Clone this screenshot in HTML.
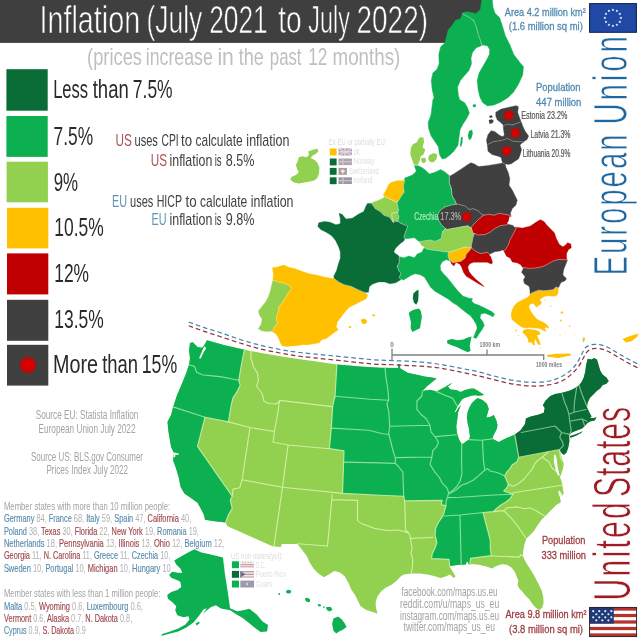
<!DOCTYPE html>
<html lang="en">
<head>
<meta charset="utf-8">
<title>Inflation (July 2021 to July 2022)</title>
<style>
html,body{margin:0;padding:0;background:#fff;}
body{width:640px;height:640px;overflow:hidden;}
svg{display:block;font-family:"Liberation Sans",sans-serif;}
</style>
</head>
<body>
<svg width="640" height="640" viewBox="0 0 640 640">
<rect width="640" height="640" fill="#ffffff"/>
<rect x="0" y="0" width="490" height="42.9" fill="#3f3f3f"/>
<polygon points="469,130.94 472.19,129.63 472.75,133.75 471.25,138.44 469,140.31 467.88,135.63" fill="#0db050"/>
<polygon points="460.94,137.5 462.63,136.56 462.44,142.19 461.13,146.88 460,145.94" fill="#0db050"/>
<polygon points="472.5,105 475.31,104.06 476.25,106.5 473.44,107.25" fill="#0db050"/>
<polygon points="420.63,137.13 423.44,137.5 424,142.19 422.5,146.88 425.31,149.69 423.44,154.38 420.63,156.25 419.69,160.94 417.81,164.69 414.06,164.69 412.19,160 410.31,154.38 410.88,147.81 413.13,144.06 416.88,142.19 418.75,138.44" fill="#92d050"/>
<polygon points="421,158.13 425.31,157.75 426.25,160.94 424,163.38 421.56,161.88" fill="#92d050"/>
<polygon points="429.06,155.31 433.75,152.88 437.13,154.38 436.56,159.06 433.75,162.25 430,161.88 428.13,159.06" fill="#92d050"/>
<polygon points="488.75,120 491.88,119.22 493.75,120.78 492.66,123.12 489.53,123.91" fill="#404040"/>
<polygon points="489.06,116.09 491.88,115.31 492.66,117.19 490,118.12" fill="#404040"/>
<polygon points="523.75,330 527.5,329 531.88,329.38 535.62,330 538.75,331.25 540.62,333.75 538.75,335 536.88,335 538.12,338.12 540,342.5 540.62,345 538.12,344.38 536.25,341.25 535,338.75 534.38,342.5 535,345.62 533.12,345 531.25,341.88 529.38,343.12 528.12,341.25 527.5,338.12 525.62,335.62 523.75,333.75 522.5,331.88" fill="#ffc000"/>
<polygon points="546.88,355 551.25,354.38 556.25,353.75 561.25,353.75 567.5,353.5 571.25,353.75 570.62,355.62 566.25,356.25 561.25,357.5 557.5,358.12 552.5,357.25 548.12,356.88" fill="#ffc000"/>
<circle cx="561.88" cy="312.5" r="1.375" fill="#ffd040"/>
<circle cx="560.88" cy="320.62" r="1.125" fill="#ffd040"/>
<circle cx="569.62" cy="326" r="0.875" fill="#ffd040"/>
<circle cx="550.62" cy="306.25" r="0.75" fill="#ffd040"/>
<circle cx="516" cy="330.62" r="1" fill="#ffd040"/>
<circle cx="518.5" cy="335.62" r="0.625" fill="#ffd040"/>
<circle cx="560" cy="335" r="0.625" fill="#ffd040"/>
<circle cx="540.25" cy="348.12" r="0.625" fill="#ffd040"/>
<circle cx="545" cy="300" r="0.625" fill="#ffd040"/>
<circle cx="555" cy="329.38" r="0.5" fill="#ffd040"/>
<circle cx="565" cy="332.5" r="0.5" fill="#ffd040"/>
<circle cx="574.38" cy="334.38" r="0.5" fill="#ffd040"/>
<polygon points="582.75,337.75 584.5,336.88 585,339.38 583.75,342.5 582.5,341.25" fill="#e0cc40"/>
<polygon points="622.5,339 630,336 638.5,333.5 637,337 632,341 626,342.5" fill="#ffc000"/>
<polygon points="413.44,293.44 416.25,290.63 418.5,289.69 418.5,295.31 418.13,300.94 416.25,304.69 414,302.81 412.88,298.13" fill="#0a6c36"/>
<polygon points="360.63,319.75 364.38,318.44 367.19,320.88 366.25,323.5 362.5,324.06" fill="#ffc000"/>
<polygon points="348.44,326.5 350.88,325.94 351.25,327.63 349,328" fill="#ffc000"/>
<polygon points="371.88,314.69 374.69,314.13 375.25,315.63 372.81,316.19" fill="#ffc000"/>
<polygon points="447.19,340.31 451.88,339 457.5,340.31 463.13,339.38 467.81,337.5 471.56,336.56 470.63,341.25 469.69,345.94 470.63,350.63 467.81,352.13 462.19,349.69 456.56,346.88 450.94,345 447.19,343.13" fill="#0db050"/>
<polygon points="410.63,311.25 414.38,309.38 419.06,308.44 420.94,311.25 421.88,316.88 420.94,322.5 420,328.13 416.25,330 412.5,331.88 410.63,328.13 411,322.5 409.69,316.88 408.75,313.13" fill="#0db050"/>
<polygon points="308.13,151.56 312.81,149.69 317.5,148.75 318.44,151.56 314.69,154.38 311.88,155.88 310.94,158.13 314.69,160 317.5,162.81 319.38,167.5 319,173.13 317.5,177.81 314.69,180.25 310,181.56 304.38,182.5 298.75,183.44 294.06,182.5 290.31,179.69 291.25,176.88 295.94,175 298.75,172.19 296.88,168.44 295.94,164.69 297.81,160.94 298.75,157.19 302.5,156.25 306.25,157.19 309.06,155.31" fill="#92d050"/>
<path d="M392.46,220.91 397.66,221.46 398.93,217.16 397.23,212.33 391.72,213.15Z" fill="#92d050" stroke="#92d050" stroke-width="0.4" fill-rule="evenodd"/>
<path d="M449.46,259.98 452.86,262.69 461.04,261.25 465.26,258.09 466.21,254.26 468.91,251.58 471.87,247.13 464.20,247.13 456.58,249.98 448.48,252.00 447.98,255.73Z" fill="#ffc000" stroke="#ffc000" stroke-width="0.4" fill-rule="evenodd"/>
<path d="M375.26,208.57 380.01,211.42 383.84,215.25 389.39,217.10 393.81,223.00 393.81,221.05 392.46,220.91 391.72,213.15 397.23,212.33 397.45,212.97 398.54,210.79 397.53,204.72 396.39,201.98 393.21,200.71 388.57,198.48 384.38,196.38 384.06,196.54 384.10,196.68 384.13,196.77 384.15,196.86 384.16,196.96 384.15,197.05 384.14,197.15 384.13,197.24 384.10,197.33 384.06,197.42 384.02,197.50 383.96,197.58 383.90,197.66 383.84,197.73 383.76,197.79 383.69,197.84 383.60,197.89 378.81,200.28 378.68,200.33 373.15,202.18 373.13,202.19 373.13,202.20 373.12,202.28 373.10,202.38 373.07,202.47 373.03,202.56 372.99,202.65 372.93,202.73 372.87,202.81 372.80,202.88 372.72,202.94 372.64,203.00 372.55,203.04 372.45,203.08 372.36,203.11 372.26,203.12 372.19,203.13 372.19,203.13 372.13,203.13 372.13,204.39Z" fill="#92d050" stroke="#92d050" stroke-width="0.4" fill-rule="evenodd"/>
<path d="M398.33,200.87 401.14,196.19 404.19,192.14 403.21,186.28 404.76,179.63 404.03,179.63 403.78,180.10 403.73,180.18 403.67,180.26 403.61,180.34 403.53,180.40 403.46,180.46 403.37,180.51 403.28,180.55 403.19,180.59 403.09,180.61 403.00,180.63 402.90,180.63 397.52,180.63 397.50,180.63 397.48,180.64 390.96,182.49 390.94,182.50 390.92,182.52 388.15,185.29 388.13,185.31 388.12,185.33 386.28,189.93 386.25,190.00 386.21,190.07 383.45,194.67 383.44,194.69 383.45,194.71 384.06,196.54 384.38,196.38 388.57,198.48 393.21,200.71 396.39,201.98 396.77,202.90Z" fill="#ffc000" stroke="#ffc000" stroke-width="0.4" fill-rule="evenodd"/>
<path d="M512.27,124.94 517.22,123.28 521.13,121.72 520.78,120.78 520.78,120.78 520.78,120.78 520.78,120.78 519.23,116.91 519.21,116.85 517.73,112.41 517.71,112.32 517.69,112.23 517.68,112.14 517.68,112.05 517.69,111.96 518.44,106.74 518.44,106.72 518.42,106.71 516.11,105.63 516.09,105.62 516.07,105.63 509.06,107.19 509.06,107.19 501.27,109.05 501.25,109.06 501.23,109.07 495.80,112.18 495.78,112.19 495.78,112.21 495.78,116.07 495.78,116.09 495.79,116.11 497.33,119.98 497.34,120.00 497.36,120.01 500.44,122.31 500.50,122.37 502.82,124.43 502.89,124.49 502.95,124.56 503.00,124.64 503.05,124.72 503.09,124.81 503.12,124.90 503.14,124.99 503.15,125.09 503.21,125.72 507.59,124.15Z" fill="#404040" stroke="#404040" stroke-width="0.4" fill-rule="evenodd"/>
<path d="M450.56,261.24 450.59,261.27 450.66,261.34 450.72,261.42 450.77,261.50 450.82,261.59 450.85,261.68 450.88,261.78 450.89,261.87 450.90,261.97 450.90,262.07 450.89,262.16 450.88,262.19 450.89,262.21 451.62,264.04 451.63,264.06 451.65,264.08 454.04,265.93 454.06,265.94 454.07,265.92 455.49,263.08 455.54,263.00 455.60,262.92 455.66,262.84 455.73,262.77 455.81,262.71 455.89,262.66 455.98,262.62 456.07,262.58 456.16,262.56 456.26,262.54 456.36,262.53 456.46,262.53 456.55,262.54 456.65,262.57 456.74,262.60 456.83,262.64 459.45,263.94 459.54,263.99 459.63,264.05 459.70,264.12 459.78,264.20 459.84,264.28 461.49,266.78 461.55,266.88 461.60,266.99 463.43,272.11 463.44,272.13 463.45,272.15 466.23,276.23 466.25,276.25 466.27,276.26 470.94,279.06 470.94,279.06 475.63,281.88 480.29,284.68 480.33,284.70 484.04,286.55 484.06,286.56 484.04,286.54 481.27,283.77 481.23,283.73 476.60,280.04 476.52,279.96 471.93,275.36 471.84,275.25 469.17,271.71 469.12,271.63 469.08,271.55 469.04,271.47 469.01,271.38 467.87,267.32 467.85,267.23 467.84,267.13 467.84,267.04 467.84,266.94 467.86,266.85 467.88,266.76 467.91,266.67 467.96,266.58 468.00,266.50 469.81,263.78 469.87,263.70 469.93,263.64 470.00,263.57 470.07,263.52 470.15,263.47 470.23,263.42 470.32,263.39 473.59,262.25 473.70,262.21 473.81,262.20 473.92,262.19 486.69,262.19 486.78,262.19 486.88,262.21 486.97,262.23 487.06,262.26 491.54,264.05 491.56,264.06 491.57,264.04 492.49,262.21 492.50,262.19 492.49,262.17 490.64,256.58 490.63,256.56 490.61,256.55 489.70,255.77 489.63,255.71 489.56,255.63 489.51,255.55 489.46,255.46 489.42,255.37 489.39,255.28 489.36,255.19 489.35,255.09 489.35,254.99 489.36,254.89 489.37,254.79 489.40,254.70 489.43,254.61 489.48,254.52 489.53,254.43 489.59,254.36 487.16,252.30 480.45,253.64 475.23,251.03 471.34,247.92 468.91,251.58 466.21,254.26 465.26,258.09 461.04,261.25 452.86,262.69 450.92,261.15Z M469.77,246.67 469.46,247.13 470.35,247.13Z" fill="#c00000" stroke="#c00000" stroke-width="0.4" fill-rule="evenodd"/>
<path d="M473.96,224.01 471.13,227.27 472.94,232.94 478.29,235.08 485.27,234.48 490.23,232.10 494.92,228.35 500.30,225.66 507.14,224.68 507.60,224.00 507.53,223.95 507.45,223.88 507.39,223.81 507.33,223.73 507.28,223.65 507.23,223.56 507.20,223.46 507.17,223.37 507.16,223.27 507.15,223.17 507.16,223.07 507.17,222.97 507.20,222.88 507.23,222.78 507.27,222.69 507.32,222.61 508.43,220.96 508.44,220.94 508.44,220.92 509.25,216.92 509.27,216.82 509.31,216.72 509.35,216.63 509.40,216.55 509.46,216.47 509.53,216.39 509.61,216.33 509.69,216.27 509.78,216.22 509.87,216.18 509.97,216.15 510.07,216.13 510.17,216.12 510.27,216.11 510.37,216.12 510.42,216.13 510.56,215.47 504.87,214.33 498.95,213.35 494.27,215.22 488.73,214.29 483.62,215.32 478.71,219.25Z" fill="#c00000" stroke="#c00000" stroke-width="0.4" fill-rule="evenodd"/>
<path d="M505.49,164.39 505.50,164.38 505.56,164.30 505.63,164.23 505.70,164.17 505.78,164.11 505.86,164.06 505.95,164.02 506.04,163.99 506.14,163.97 506.23,163.95 506.33,163.95 506.43,163.95 506.52,163.97 506.62,163.99 506.71,164.03 506.80,164.07 506.88,164.12 507.48,164.52 507.50,164.53 507.52,164.53 511.39,163.75 511.41,163.75 511.43,163.74 514.49,161.44 514.57,161.38 518.42,159.07 518.44,159.06 518.45,159.04 519.99,155.18 520.01,155.14 521.55,149.71 521.56,149.69 521.55,149.67 520.19,145.59 520.17,145.49 520.15,145.39 520.14,145.29 520.15,145.19 520.16,145.09 520.18,144.99 520.22,144.90 520.26,144.81 520.31,144.72 520.37,144.64 520.44,144.56 522.27,142.73 522.34,142.66 522.42,142.61 523.84,141.66 516.96,141.66 512.50,140.92 507.58,138.45 501.02,140.58 493.13,141.69 487.30,144.76 487.49,145.73 487.50,145.84 487.97,151.22 487.97,151.25 487.99,151.27 491.86,154.36 491.88,154.38 491.90,154.39 497.29,155.93 497.39,155.96 500.75,157.30 500.84,157.34 500.92,157.39 501.00,157.45 501.08,157.51 501.14,157.59 501.20,157.67 501.26,157.75 501.30,157.84 501.33,157.94 501.36,158.03 502.03,161.39 502.03,161.41 502.05,161.42 502.13,161.47 502.21,161.53 502.28,161.60 502.34,161.67 502.40,161.75 502.45,161.84 502.49,161.93 502.52,162.03 502.54,162.12 502.55,162.22 502.55,162.32 502.55,162.42 502.53,162.51 502.50,162.61 502.46,162.70 502.45,162.74 504.66,163.84Z" fill="#404040" stroke="#404040" stroke-width="0.4" fill-rule="evenodd"/>
<path d="M527.01,139.54 527.03,139.53 527.04,139.51 528.58,135.96 528.59,135.94 528.58,135.92 525.52,131.79 525.47,131.72 525.43,131.64 523.14,127.08 523.10,126.98 521.13,121.72 517.22,123.28 512.27,124.94 507.59,124.15 503.21,125.72 503.59,130.14 503.59,130.18 504.31,134.41 504.32,134.51 504.32,134.61 504.31,134.72 504.29,134.82 504.26,134.92 504.22,135.01 504.17,135.10 504.11,135.19 503.32,136.21 503.26,136.29 503.19,136.36 503.11,136.42 503.02,136.47 502.93,136.52 502.84,136.56 502.74,136.58 502.65,136.60 502.55,136.60 502.45,136.60 502.35,136.59 502.25,136.57 502.16,136.53 502.07,136.49 499.00,134.88 498.91,134.84 498.83,134.78 495.02,131.74 495.00,131.72 494.98,131.71 491.11,130.63 491.09,130.62 491.08,130.64 487.98,134.82 487.97,134.84 487.96,134.86 486.42,140.29 486.41,140.31 486.41,140.33 487.49,145.73 487.30,144.76 493.13,141.69 501.02,140.58 507.58,138.45 512.50,140.92 516.96,141.66 523.84,141.66 522.42,142.61Z" fill="#404040" stroke="#404040" stroke-width="0.4" fill-rule="evenodd"/>
<path d="M444.78,206.90 439.76,210.92 437.64,215.17 438.67,220.37 441.68,225.36 446.86,229.51 452.36,228.48 457.99,227.54 462.68,226.61 467.90,225.74 471.40,228.13 471.13,227.27 473.96,224.01 478.71,219.25 483.62,215.32 484.12,215.22 481.79,214.44 478.06,210.71 472.88,208.64 469.30,209.54 464.85,205.97 457.87,203.98 451.59,204.96Z" fill="#404040" stroke="#404040" stroke-width="0.4" fill-rule="evenodd"/>
<path d="M277.31,323.39 276.34,317.58 278.16,312.12 279.07,306.67 282.70,302.13 285.55,297.39 288.33,292.75 291.63,288.35 288.04,284.76 282.14,282.78 277.49,281.85 272.97,279.89 272.89,280.85 272.88,280.94 272.85,281.03 271.57,285.61 271.56,285.65 270.64,290.25 270.61,290.37 268.77,295.87 268.72,296.00 265.99,301.47 265.94,301.56 265.87,301.64 258.46,310.92 258.44,310.94 258.45,310.96 259.37,314.67 259.38,314.69 259.39,314.71 261.99,319.05 262.03,319.13 262.07,319.21 262.10,319.30 262.12,319.39 262.13,319.48 262.13,319.58 262.13,319.67 262.11,319.76 261.28,323.89 261.26,324.00 261.21,324.11 261.16,324.21 258.45,328.73 258.44,328.75 258.46,328.76 261.23,330.62 261.25,330.63 261.28,330.63 266.86,331.56 266.88,331.56 266.90,331.56 271.20,331.04 271.30,331.04 271.40,331.04 271.50,331.05 271.59,331.07 271.69,331.11 271.78,331.15 271.86,331.20 272.41,331.55 274.30,327.39Z" fill="#92d050" stroke="#92d050" stroke-width="0.4" fill-rule="evenodd"/>
<path d="M442.45,231.71 441.46,237.58 441.06,238.94 434.90,241.44 430.33,239.98 419.28,241.64 420.05,242.24 420.12,242.30 420.19,242.37 420.25,242.45 420.30,242.53 420.35,242.62 420.38,242.71 421.24,245.29 421.25,245.31 421.27,245.32 423.97,246.55 424.06,246.59 424.14,246.65 424.22,246.71 424.29,246.78 424.35,246.85 424.41,246.93 424.45,247.02 424.49,247.11 424.52,247.21 424.54,247.30 424.55,247.40 424.55,247.50 424.54,247.60 424.53,247.70 424.50,247.79 424.46,247.87 427.14,249.09 432.35,250.05 439.86,250.99 445.55,251.94 448.74,251.94 456.58,249.98 464.20,247.13 469.46,247.13 469.77,246.67 470.35,247.13 471.03,247.13 472.85,238.07 474.36,233.51 472.94,232.94 471.13,227.27 471.40,228.13 467.90,225.74 462.68,226.61 457.99,227.54 452.36,228.48 446.86,229.51 445.63,228.52Z" fill="#92d050" stroke="#92d050" stroke-width="0.4" fill-rule="evenodd"/>
<path d="M553.29,289.67 543.75,290.87 538.63,290.23 533.35,292.20 530.00,293.88 530.00,294.59 530.00,294.68 529.98,294.78 529.96,294.88 529.92,294.97 529.88,295.06 529.83,295.14 529.77,295.22 529.71,295.29 528.21,296.79 528.15,296.85 528.08,296.90 528.01,296.94 525.03,298.73 524.97,298.77 521.25,300.62 517.52,302.49 517.50,302.50 517.48,302.52 514.40,305.60 514.38,305.62 514.37,305.64 512.52,309.35 512.49,309.41 511.26,313.09 511.25,313.12 511.25,313.15 511.25,316.86 511.25,316.88 511.26,316.90 512.49,319.98 512.50,320.00 512.52,320.02 515.62,322.50 518.73,324.99 518.77,325.01 522.48,327.49 522.50,327.50 522.53,327.50 526.22,328.12 526.25,328.12 526.28,328.12 530.47,327.52 530.57,327.51 530.67,327.51 530.77,327.52 534.36,328.12 534.38,328.12 534.40,328.12 537.40,328.12 537.50,328.12 537.60,328.14 540.45,328.72 540.56,328.74 540.67,328.79 540.77,328.84 543.73,330.61 543.75,330.62 543.77,330.63 546.23,331.24 546.25,331.25 546.24,331.23 545.07,329.49 545.03,329.42 544.99,329.34 544.96,329.25 544.76,328.65 544.73,328.56 544.72,328.46 544.71,328.36 544.71,328.26 544.72,328.16 544.75,328.07 544.78,327.97 544.82,327.88 544.87,327.80 544.93,327.72 544.99,327.64 545.06,327.57 545.14,327.51 545.23,327.46 545.32,327.42 545.41,327.38 545.51,327.36 545.61,327.34 545.71,327.34 545.80,327.34 545.90,327.36 546.00,327.38 546.09,327.42 546.18,327.46 546.23,327.49 546.25,327.50 546.27,327.51 548.73,328.11 548.75,328.12 548.74,328.10 548.13,326.27 548.12,326.25 548.10,326.23 545.63,323.76 545.62,323.75 545.60,323.74 542.52,321.89 542.50,321.88 542.48,321.87 539.45,320.65 539.38,320.62 539.31,320.58 536.42,318.85 536.34,318.80 536.26,318.74 536.19,318.67 536.13,318.59 534.38,316.26 534.38,316.24 531.92,313.17 531.85,313.06 530.04,310.07 530.00,310.00 529.97,309.92 528.91,307.28 528.88,307.18 528.85,307.08 528.84,306.98 528.84,306.88 528.84,306.78 528.86,306.68 528.89,306.59 528.93,306.49 529.82,304.53 529.86,304.44 529.91,304.36 529.97,304.29 530.03,304.22 530.10,304.16 530.17,304.11 530.25,304.06 530.34,304.02 530.43,303.99 532.26,303.41 532.35,303.38 532.45,303.37 532.54,303.36 532.63,303.36 532.73,303.37 532.82,303.39 532.91,303.42 533.00,303.46 533.08,303.51 533.16,303.56 534.60,304.64 534.67,304.70 534.74,304.76 534.80,304.83 534.85,304.91 535.99,306.73 536.00,306.75 536.02,306.75 537.73,306.50 537.75,306.50 537.76,306.48 538.29,305.43 538.34,305.34 538.39,305.26 538.46,305.18 538.53,305.12 538.61,305.06 538.69,305.00 538.78,304.96 538.87,304.92 538.96,304.90 540.73,304.51 540.75,304.50 540.76,304.48 541.49,302.02 541.50,302.00 541.48,301.98 540.15,300.89 540.08,300.82 540.01,300.75 539.96,300.67 539.90,300.58 539.86,300.50 539.83,300.40 539.81,300.31 539.79,300.21 539.79,300.11 539.79,300.01 539.81,299.92 539.83,299.82 539.87,299.73 539.91,299.64 539.96,299.56 540.02,299.48 540.53,298.86 540.59,298.79 540.66,298.73 540.74,298.67 542.45,297.53 542.56,297.47 544.87,296.32 544.96,296.28 545.05,296.25 545.15,296.23 548.60,295.65 548.70,295.63 548.80,295.63 548.90,295.64 553.09,296.25 553.12,296.25 553.15,296.25 556.85,295.62 556.88,295.62 556.89,295.60 558.11,292.52 558.12,292.50 558.12,292.48 558.12,288.93 558.13,288.82 558.14,288.72 558.17,288.61 558.21,288.52 558.52,287.83 555.98,286.97Z" fill="#ffc000" stroke="#ffc000" stroke-width="0.4" fill-rule="evenodd"/>
<path d="M489.59,254.36 489.66,254.28 489.73,254.22 489.82,254.16 489.90,254.12 494.25,251.95 494.34,251.91 494.43,251.88 494.53,251.86 499.97,250.94 500.00,250.94 500.03,250.93 502.42,249.97 502.51,249.94 502.60,249.92 502.70,249.90 502.79,249.90 502.89,249.91 502.99,249.92 503.08,249.94 503.17,249.98 503.26,250.02 503.34,250.07 503.42,250.12 503.49,250.19 503.56,250.26 503.61,250.34 503.66,250.42 503.71,250.51 503.72,250.53 505.37,249.86 508.41,244.80 510.29,239.17 513.07,234.54 516.15,228.37 515.40,227.24 515.03,227.19 515.00,227.19 514.96,227.20 514.86,227.22 514.76,227.23 514.66,227.22 514.55,227.21 514.46,227.19 514.36,227.16 514.27,227.12 514.18,227.06 514.10,227.01 514.02,226.94 513.96,226.86 513.90,226.78 513.14,225.65 513.13,225.63 513.11,225.62 507.88,224.13 507.79,224.10 507.69,224.05 507.61,224.00 507.60,224.00 507.14,224.68 500.30,225.66 494.92,228.35 490.23,232.10 485.27,234.48 478.29,235.08 474.36,233.51 472.85,238.07 471.03,247.13 471.87,247.13 471.34,247.92 475.23,251.03 480.45,253.64 487.16,252.30 489.59,254.36Z" fill="#404040" stroke="#404040" stroke-width="0.4" fill-rule="evenodd"/>
<path d="M523.07,267.95 523.13,268.03 523.17,268.12 523.21,268.21 523.24,268.31 523.26,268.41 523.27,268.51 523.27,268.61 523.26,268.71 523.23,268.80 523.20,268.90 523.16,268.99 521.57,272.17 521.56,272.19 521.57,272.21 524.85,276.31 524.91,276.39 524.96,276.47 525.00,276.56 525.03,276.65 525.05,276.75 525.07,276.84 525.07,276.94 525.07,277.04 525.05,277.13 525.03,277.23 525.00,277.32 524.96,277.40 524.91,277.49 523.45,279.67 523.44,279.69 523.45,279.72 524.37,283.42 524.38,283.44 524.40,283.45 528.71,286.04 528.79,286.09 528.86,286.15 528.93,286.22 528.99,286.30 529.05,286.38 529.09,286.47 529.13,286.56 529.16,286.65 529.97,289.88 529.99,289.96 530.00,290.04 530.00,290.12 530.00,293.88 533.35,292.20 538.63,290.23 543.75,290.87 553.29,289.67 555.98,286.97 558.52,287.83 560.77,282.87 560.82,282.78 560.87,282.70 560.93,282.63 560.99,282.56 561.07,282.49 561.14,282.44 561.23,282.39 561.31,282.35 564.67,281.01 564.69,281.00 564.71,280.98 566.54,278.77 566.56,278.75 566.54,278.73 563.17,275.36 563.11,275.29 563.05,275.22 563.00,275.14 562.96,275.05 562.93,274.96 562.90,274.87 562.89,274.78 562.88,274.68 562.88,274.59 562.89,274.49 563.73,269.49 563.76,269.38 563.79,269.28 565.63,264.69 567.12,260.96 567.13,260.95 567.13,260.94 567.13,260.94 567.13,260.94 567.13,260.92 566.92,259.92 559.94,259.37 554.03,260.55 548.28,263.81 542.80,266.55 535.51,268.01 528.20,268.37 522.89,267.31 522.77,267.55Z" fill="#404040" stroke="#404040" stroke-width="0.4" fill-rule="evenodd"/>
<path d="M503.74,250.60 503.75,250.63 503.76,250.65 506.55,256.23 506.56,256.25 506.58,256.26 510.01,257.98 510.09,258.03 510.17,258.08 510.24,258.14 510.30,258.20 510.36,258.27 510.41,258.35 510.46,258.43 512.18,261.86 512.19,261.88 512.21,261.88 516.75,262.78 516.83,262.81 516.92,262.83 517.00,262.87 520.42,264.58 520.50,264.63 520.58,264.68 520.65,264.74 520.71,264.81 520.77,264.88 522.77,267.55 522.89,267.31 528.20,268.37 535.51,268.01 542.80,266.55 548.28,263.81 554.03,260.55 559.94,259.37 566.92,259.92 567.13,260.92 566.58,258.23 566.57,258.13 566.56,258.03 566.56,253.68 566.56,253.58 566.58,253.49 566.60,253.40 566.63,253.31 566.67,253.23 568.32,249.93 568.37,249.84 568.43,249.75 568.50,249.67 568.58,249.60 568.66,249.54 571.23,247.82 571.25,247.81 571.25,247.79 570.88,244.08 570.88,244.06 570.86,244.05 567.52,242.76 567.50,242.75 567.48,242.77 565.72,244.89 565.66,244.96 565.59,245.02 565.51,245.08 563.40,246.49 563.32,246.54 563.23,246.58 563.14,246.61 563.05,246.63 562.96,246.65 562.86,246.65 562.77,246.65 562.67,246.64 562.58,246.62 562.49,246.59 562.41,246.55 562.32,246.51 562.24,246.45 559.25,244.20 559.18,244.14 559.11,244.08 559.05,244.01 559.00,243.93 558.95,243.85 556.28,238.50 556.23,238.37 554.39,232.83 554.38,232.81 554.36,232.79 546.93,225.36 546.84,225.25 544.07,221.58 544.06,221.56 544.04,221.55 540.33,219.70 540.31,219.69 540.29,219.70 535.64,222.49 535.62,222.51 530.14,226.15 530.05,226.21 529.94,226.26 529.83,226.29 522.68,228.08 522.59,228.10 522.50,228.11 522.41,228.11 522.31,228.11 515.03,227.19 515.40,227.24 516.15,228.37 513.07,234.54 510.29,239.17 508.41,244.80 505.37,249.86 503.72,250.53Z" fill="#c00000" stroke="#c00000" stroke-width="0.4" fill-rule="evenodd"/>
<path d="M397.38,266.13 398.48,270.51 401.02,273.05 399.14,277.74 400.93,279.53 401.05,279.45 401.13,279.39 401.21,279.35 401.30,279.31 401.39,279.28 401.48,279.26 401.58,279.25 401.67,279.25 401.77,279.25 401.86,279.27 401.95,279.29 402.04,279.33 402.13,279.37 402.21,279.42 402.28,279.47 402.36,279.54 403.11,280.29 403.13,280.31 403.15,280.30 405.92,278.45 405.96,278.43 410.56,275.67 410.63,275.63 410.70,275.60 415.03,273.86 415.12,273.83 415.22,273.81 415.31,273.79 415.41,273.79 415.51,273.79 415.60,273.81 419.83,274.66 419.94,274.68 420.05,274.73 420.15,274.78 424.47,277.37 424.56,277.43 424.63,277.49 424.70,277.56 424.76,277.63 424.82,277.72 430.30,286.86 430.31,286.88 430.32,286.89 434.05,290.62 434.06,290.63 434.08,290.64 448.07,299.03 448.18,299.10 452.78,302.79 452.84,302.83 457.44,305.60 457.55,305.67 466.87,313.13 466.89,313.13 470.52,315.85 470.59,315.91 470.66,315.98 470.72,316.05 473.41,319.65 473.47,319.73 476.17,324.25 476.22,324.34 476.26,324.43 476.29,324.52 477.11,327.82 477.13,327.92 477.14,328.02 477.14,328.13 477.13,328.23 477.10,328.33 477.07,328.43 475.31,332.81 473.45,337.48 473.44,337.50 473.46,337.51 476.23,338.43 476.25,338.44 476.26,338.42 479.03,333.80 479.09,333.71 481.87,330.02 481.88,330.00 481.89,329.98 484.30,325.33 484.31,325.31 484.30,325.29 482.82,321.58 482.81,321.56 482.80,321.54 480.29,318.19 480.23,318.11 480.18,318.02 480.15,317.93 480.12,317.84 480.10,317.74 480.09,317.64 480.09,317.54 480.10,317.45 480.12,317.35 480.79,314.64 480.82,314.55 480.86,314.46 480.91,314.37 480.96,314.29 481.02,314.21 481.09,314.14 481.17,314.08 481.25,314.03 481.34,313.98 481.43,313.94 481.52,313.92 484.38,313.21 484.48,313.19 484.58,313.18 484.69,313.18 484.79,313.19 484.89,313.22 484.99,313.25 489.34,314.98 489.42,315.02 493.11,316.87 493.13,316.88 493.14,316.86 494.62,314.08 494.63,314.06 494.61,314.04 491.27,311.27 491.25,311.25 491.22,311.24 485.63,308.44 480.03,305.65 479.97,305.62 474.60,303.82 474.52,303.79 474.43,303.75 474.36,303.70 474.28,303.65 474.21,303.58 472.02,301.40 471.96,301.33 471.90,301.25 471.85,301.17 471.81,301.08 471.77,300.99 471.75,300.90 471.73,300.80 471.73,300.71 471.73,300.61 471.74,300.52 471.76,300.42 471.79,300.33 472.49,298.52 472.50,298.50 472.48,298.50 468.86,298.14 468.75,298.12 468.64,298.09 463.35,296.32 463.27,296.29 463.18,296.25 463.11,296.20 463.03,296.15 462.96,296.08 458.48,291.60 458.41,291.52 454.69,286.88 454.69,286.88 447.21,277.52 447.17,277.48 443.49,273.80 443.40,273.69 440.80,270.23 440.75,270.15 440.71,270.07 440.67,269.99 440.64,269.90 440.62,269.81 440.61,269.71 440.28,265.63 440.27,265.53 440.28,265.42 440.30,265.32 440.33,265.22 440.37,265.13 440.42,265.03 442.35,261.81 442.40,261.73 442.46,261.66 442.53,261.59 442.60,261.53 442.68,261.48 442.76,261.43 445.87,259.88 445.96,259.84 446.06,259.81 446.16,259.79 446.26,259.78 446.36,259.77 446.45,259.78 446.55,259.80 446.65,259.83 449.98,260.99 450.00,261.00 450.01,261.00 450.08,261.01 450.18,261.03 450.27,261.06 450.36,261.10 450.44,261.15 450.52,261.21 450.59,261.27 450.56,261.24 450.92,261.15 451.00,261.21 449.46,259.98 447.98,255.73 448.48,252.00 450.17,251.58 448.74,251.94 445.55,251.94 439.86,250.99 432.35,250.05 427.14,249.09 424.46,247.87 424.50,247.79 424.46,247.88 424.41,247.97 424.36,248.05 424.30,248.13 424.23,248.20 424.15,248.26 424.07,248.32 423.98,248.36 423.89,248.40 423.80,248.43 423.77,248.43 423.75,248.44 423.74,248.46 422.05,251.85 422.00,251.94 421.94,252.02 421.87,252.10 421.79,252.17 421.71,252.23 421.62,252.29 421.53,252.33 417.21,254.05 417.19,254.06 417.18,254.08 414.81,257.23 414.75,257.31 414.68,257.38 414.61,257.44 414.53,257.49 414.44,257.54 414.36,257.57 414.26,257.60 414.17,257.62 414.08,257.63 413.98,257.63 413.88,257.63 413.79,257.61 413.70,257.58 408.77,255.95 408.75,255.94 408.73,255.95 404.36,257.69 404.26,257.72 404.16,257.75 404.06,257.76 403.95,257.76 403.85,257.75 403.75,257.73 400.33,256.89 400.31,256.88 400.28,256.90 400.26,256.91 400.17,256.96 400.08,256.99 399.99,257.02 399.90,257.03 399.80,257.04 399.71,257.04 399.61,257.03 399.52,257.01 399.43,256.99 399.34,256.95 399.31,256.93 399.31,262.26Z" fill="#0db050" stroke="#0db050" stroke-width="0.4" fill-rule="evenodd"/>
<path d="M451.21,188.35 452.16,195.96 455.04,200.76 456.42,204.21 457.87,203.98 464.85,205.97 469.30,209.54 472.88,208.64 478.06,210.71 481.79,214.44 484.12,215.22 488.73,214.29 494.27,215.22 498.95,213.35 504.87,214.33 510.56,215.47 510.42,216.13 510.37,216.12 511.23,216.25 511.25,216.25 511.24,216.23 510.43,213.79 510.40,213.69 510.38,213.59 510.38,213.49 510.38,213.39 510.39,213.29 510.41,213.19 510.45,213.10 512.11,208.94 512.16,208.85 512.21,208.76 512.27,208.68 512.33,208.61 515.92,205.02 515.94,205.00 515.95,204.98 517.24,200.33 517.25,200.31 517.24,200.29 515.00,195.63 515.00,195.63 512.21,190.03 512.17,189.97 509.21,185.62 509.16,185.53 509.11,185.44 509.08,185.34 509.05,185.24 509.04,185.14 509.04,185.04 509.04,184.94 509.75,178.78 509.75,178.75 509.74,178.72 508.45,173.15 508.44,173.13 508.43,173.11 506.03,167.56 505.98,167.43 505.36,165.22 505.34,165.12 505.33,165.03 505.33,164.93 505.33,164.83 505.35,164.74 505.37,164.64 505.41,164.55 505.45,164.46 505.50,164.38 505.49,164.39 504.66,163.84 502.45,162.74 502.46,162.70 502.42,162.79 502.37,162.87 502.30,162.95 502.23,163.02 502.16,163.08 502.08,163.14 501.99,163.19 501.90,163.23 501.81,163.26 501.71,163.28 496.25,164.13 486.90,165.63 486.86,165.63 478.79,166.52 478.70,166.53 478.60,166.52 478.50,166.51 478.41,166.49 478.31,166.46 478.23,166.42 478.14,166.37 474.71,164.15 474.69,164.13 474.66,164.12 470.96,162.82 470.94,162.81 470.92,162.82 466.26,165.62 466.24,165.64 460.63,169.38 455.02,173.12 454.98,173.14 450.53,175.81 450.44,175.85 450.36,175.89 450.26,175.92 450.17,175.94 450.07,175.95 449.98,175.95 449.88,175.94 449.79,175.92 449.69,175.90 449.60,175.86 449.52,175.82 449.44,175.77 449.36,175.71 449.31,175.66 449.31,182.66Z" fill="#404040" stroke="#404040" stroke-width="0.4" fill-rule="evenodd"/>
<path d="M473.58,20.36 476.24,26.57 478.10,34.05 480.55,40.62 481.88,45.40 482.52,45.12 482.62,45.09 482.72,45.06 482.81,45.05 482.92,45.04 483.02,45.05 483.11,45.06 487.07,45.85 487.17,45.88 487.26,45.91 487.36,45.96 487.45,46.02 487.53,46.08 487.60,46.15 487.67,46.23 487.73,46.32 489.59,49.42 489.63,49.51 489.67,49.60 489.70,49.70 489.72,49.80 489.73,49.91 489.72,50.01 489.40,54.18 489.38,54.28 489.36,54.37 489.33,54.47 489.29,54.55 486.57,59.98 486.55,60.02 482.81,66.56 479.07,73.11 479.06,73.13 479.05,73.15 477.20,80.61 477.19,80.63 477.19,80.65 478.13,89.96 478.14,90.04 480.00,97.48 480.00,97.50 480.01,97.52 482.80,102.73 482.81,102.75 482.83,102.76 487.48,105.93 487.50,105.94 487.52,105.94 494.04,105.00 494.06,105.00 494.08,104.99 500.61,102.20 500.63,102.19 500.65,102.18 508.11,97.52 508.13,97.50 508.15,97.48 513.73,91.90 513.75,91.88 513.77,91.86 518.42,84.41 518.45,84.35 522.74,75.03 522.75,75.00 522.75,74.97 523.50,66.59 523.50,66.56 523.48,66.54 519.41,61.91 519.36,61.85 513.83,54.49 513.78,54.41 513.74,54.34 513.70,54.26 510.01,45.02 509.99,44.98 505.35,35.71 505.31,35.63 505.29,35.55 502.50,26.26 502.50,26.24 499.70,17.83 499.69,17.81 499.67,17.79 495.17,13.30 495.11,13.23 495.05,13.15 495.00,13.08 494.96,12.99 494.93,12.90 493.16,7.60 493.14,7.50 493.12,7.40 492.19,-0.92 492.19,-0.94 492.17,-0.94 481.90,-0.94 481.88,-0.94 481.88,-0.92 480.43,9.05 480.41,9.14 480.38,9.23 480.35,9.31 480.31,9.40 480.26,9.47 480.21,9.55 480.14,9.61 476.63,13.12 476.56,13.19 476.48,13.25 476.39,13.30 476.30,13.34 476.21,13.37 476.12,13.40 476.02,13.41 475.92,13.41 475.82,13.41 475.73,13.40 466.90,11.63 466.88,11.63 466.86,11.64 462.76,12.75 462.75,12.75 462.75,12.76 462.74,12.77 462.37,13.68 468.24,16.80Z" fill="#0db050" stroke="#0db050" stroke-width="0.4" fill-rule="evenodd"/>
<path d="M401.74,223.71 406.50,225.62 407.84,226.17 405.94,230.91 403.92,236.96 404.86,238.82 404.93,238.77 405.01,238.72 405.11,238.68 405.20,238.65 405.30,238.63 405.40,238.62 405.50,238.62 405.60,238.63 405.70,238.65 405.79,238.68 405.88,238.72 405.91,238.73 405.94,238.75 405.97,238.75 413.97,237.86 414.07,237.85 414.17,237.85 414.26,237.87 414.36,237.89 414.45,237.92 414.54,237.96 414.62,238.01 414.70,238.06 420.05,242.24 419.28,241.64 430.33,239.98 434.90,241.44 441.06,238.94 441.46,237.58 442.45,231.71 445.63,228.52 441.68,225.36 438.67,220.37 437.64,215.17 439.76,210.92 444.78,206.90 451.59,204.96 456.49,204.19 456.42,204.21 455.04,200.76 452.16,195.96 451.21,188.35 449.31,182.66 449.31,175.66 445.33,172.20 445.31,172.19 445.29,172.18 440.65,169.39 440.63,169.38 440.61,169.39 435.06,172.16 434.93,172.21 429.97,173.86 429.87,173.89 429.77,173.91 429.67,173.92 429.57,173.91 429.47,173.90 429.37,173.88 429.28,173.84 429.19,173.80 429.10,173.75 429.02,173.69 428.94,173.62 425.66,170.34 425.60,170.29 421.90,167.51 421.88,167.50 421.86,167.49 418.15,165.64 418.13,165.63 418.11,165.63 414.40,165.63 414.38,165.63 414.39,165.65 416.05,170.66 416.08,170.76 416.10,170.86 416.11,170.96 416.10,171.06 416.09,171.16 416.07,171.26 416.03,171.35 415.99,171.44 415.94,171.53 415.88,171.61 415.81,171.69 412.64,174.86 412.57,174.92 412.49,174.98 412.40,175.03 412.31,175.08 407.84,176.87 407.78,176.89 405.02,177.80 405.00,177.81 404.99,177.83 404.03,179.63 404.76,179.63 403.21,186.28 404.19,192.14 401.14,196.19 398.33,200.87 396.77,202.90 397.53,204.72 398.54,210.79 397.45,212.97 398.93,217.16 397.71,221.29Z" fill="#0db050" stroke="#0db050" stroke-width="0.4" fill-rule="evenodd"/>
<path d="M460.49,18.32 460.45,18.41 460.40,18.49 460.34,18.57 460.27,18.64 460.20,18.71 460.13,18.76 460.04,18.82 459.96,18.86 459.86,18.89 455.65,20.24 455.63,20.25 455.62,20.27 452.84,24.34 452.78,24.42 448.14,29.98 448.13,30.00 448.12,30.02 446.25,37.49 446.25,37.51 444.83,42.85 444.80,42.94 444.76,43.02 444.71,43.11 444.66,43.19 444.60,43.26 444.53,43.33 440.65,46.86 440.63,46.88 440.62,46.90 438.76,54.36 438.75,54.38 438.75,54.40 439.12,63.54 439.12,63.64 439.11,63.75 439.08,63.85 439.05,63.95 436.97,69.17 436.93,69.25 436.88,69.33 436.83,69.40 436.77,69.47 436.71,69.54 432.77,73.11 432.75,73.13 432.74,73.16 431.25,80.61 431.25,80.63 431.25,80.65 432.19,89.96 432.20,90.04 433.97,97.14 433.99,97.24 434.00,97.34 434.00,97.44 433.99,97.54 433.97,97.64 433.94,97.74 433.89,97.83 432.82,99.97 432.81,100.00 432.81,100.03 431.88,107.50 431.88,107.50 430.95,114.88 430.93,115.00 430.90,115.11 428.14,122.48 428.13,122.50 428.13,122.53 428.50,128.11 428.50,128.13 428.51,128.15 430.93,135.61 430.94,135.63 430.95,135.65 434.69,141.25 438.31,146.68 438.36,146.76 438.40,146.85 438.43,146.93 438.45,147.02 438.47,147.11 439.38,154.35 439.38,154.38 439.39,154.40 442.18,159.04 442.19,159.06 442.21,159.05 445.91,158.14 445.94,158.13 445.96,158.11 450.61,154.40 450.65,154.36 454.36,150.65 454.38,150.63 454.39,150.61 458.12,145.02 458.13,145.00 458.13,144.98 459.06,137.50 459.06,137.50 459.98,130.17 460.00,130.06 460.03,129.95 460.08,129.85 462.78,124.44 462.84,124.33 466.54,118.78 466.57,118.72 469.37,113.15 469.38,113.13 469.37,113.11 467.51,107.53 467.50,107.50 467.49,107.48 464.70,102.83 464.69,102.81 464.67,102.80 460.13,100.08 460.04,100.02 459.96,99.95 459.89,99.88 459.83,99.80 459.77,99.71 459.72,99.62 459.69,99.52 458.47,95.73 458.44,95.63 458.43,95.53 457.53,87.45 457.52,87.35 457.53,87.25 457.54,87.14 457.57,87.04 457.60,86.95 460.25,80.76 460.29,80.68 460.35,80.59 460.40,80.52 464.99,75.01 465.01,74.99 469.11,70.33 469.13,70.31 469.14,70.29 471.55,63.77 471.56,63.75 471.56,63.73 471.02,58.31 471.01,58.22 471.02,58.13 471.03,58.04 471.05,57.95 472.45,52.70 472.48,52.60 472.52,52.51 472.57,52.42 472.63,52.34 476.09,48.01 476.16,47.93 476.23,47.87 476.31,47.81 476.39,47.75 476.48,47.71 481.88,45.40 480.55,40.62 478.10,34.05 476.24,26.57 473.58,20.36 468.24,16.80 462.37,13.68Z" fill="#0db050" stroke="#0db050" stroke-width="0.4" fill-rule="evenodd"/>
<path d="M275.16,333.34 275.23,333.39 275.30,333.45 275.36,333.51 275.42,333.58 278.05,337.08 278.10,337.16 278.14,337.23 278.18,337.31 279.99,341.86 280.01,341.90 281.87,345.61 281.88,345.63 281.90,345.63 286.53,346.55 286.56,346.56 286.59,346.56 291.22,346.00 291.28,346.00 296.86,345.63 296.90,345.63 302.42,344.70 302.50,344.69 302.58,344.69 308.11,344.69 308.13,344.69 308.15,344.69 313.75,343.75 319.35,342.81 319.38,342.81 319.39,342.79 321.06,340.29 321.12,340.21 321.18,340.14 321.25,340.08 321.32,340.02 321.40,339.97 321.49,339.93 321.58,339.89 326.85,338.14 326.88,338.13 326.90,338.11 330.63,335.31 330.63,335.31 338.11,329.71 338.13,329.69 338.12,329.67 336.48,327.23 336.43,327.14 336.39,327.05 336.36,326.96 336.33,326.86 336.32,326.77 336.31,326.67 336.32,326.57 336.33,326.47 337.15,322.41 337.17,322.33 337.20,322.24 337.23,322.16 337.28,322.08 337.33,322.01 342.81,314.69 342.81,314.69 345.59,311.00 345.68,310.89 349.27,307.30 349.35,307.23 349.43,307.17 349.53,307.12 355.00,304.38 360.63,301.56 366.23,298.76 366.25,298.75 366.26,298.73 367.74,294.65 367.75,294.63 367.73,294.62 366.36,294.13 366.27,294.09 366.18,294.05 366.09,293.99 366.02,293.93 365.95,293.85 365.89,293.78 365.83,293.69 365.78,293.60 365.75,293.51 365.72,293.42 365.70,293.32 365.70,293.22 365.70,293.12 365.71,293.02 365.73,292.92 365.75,292.85 362.87,291.82 357.30,289.40 351.60,286.56 344.10,284.69 338.66,281.96 333.87,278.29 333.83,278.35 333.76,278.42 333.69,278.48 333.61,278.53 333.52,278.58 333.43,278.62 333.34,278.65 333.25,278.67 333.15,278.68 333.05,278.69 332.96,278.68 332.86,278.66 332.77,278.64 332.68,278.60 332.59,278.56 332.51,278.51 332.50,278.50 332.48,278.50 325.04,277.20 324.96,277.18 317.52,275.31 317.48,275.31 310.07,274.01 309.93,273.98 302.52,271.57 302.48,271.55 295.03,268.76 294.97,268.74 287.61,266.91 287.50,266.87 287.40,266.83 283.77,265.01 283.75,265.00 283.73,265.01 278.21,266.85 278.13,266.88 278.05,266.89 272.52,267.81 272.50,267.81 272.50,267.83 273.42,274.27 273.43,274.38 273.43,274.49 272.97,279.89 277.49,281.85 282.14,282.78 288.04,284.76 291.63,288.35 288.33,292.75 285.55,297.39 282.70,302.13 279.07,306.67 278.16,312.12 276.34,317.58 277.31,323.39 274.30,327.39 272.41,331.55 271.86,331.20Z" fill="#ffc000" stroke="#ffc000" stroke-width="0.4" fill-rule="evenodd"/>
<path d="M365.76,292.83 365.80,292.74 365.85,292.65 365.91,292.57 365.98,292.49 366.05,292.42 366.13,292.36 366.22,292.31 366.31,292.27 366.40,292.23 366.50,292.21 366.60,292.19 366.69,292.19 368.41,292.19 368.44,292.19 368.44,292.17 369.31,286.96 369.33,286.86 369.36,286.77 369.40,286.68 369.45,286.60 369.50,286.52 369.56,286.45 369.63,286.38 369.70,286.32 373.00,283.85 373.09,283.79 373.18,283.74 373.28,283.70 378.60,281.93 378.70,281.90 378.81,281.89 378.91,281.88 384.22,281.88 384.32,281.89 384.43,281.90 384.53,281.93 389.98,283.74 390.00,283.75 390.02,283.75 395.61,282.81 395.63,282.81 395.65,282.80 400.29,280.01 400.33,279.98 400.93,279.53 399.14,277.74 401.02,273.05 398.48,270.51 397.38,266.13 399.31,262.26 399.31,256.93 399.25,256.90 399.17,256.85 399.10,256.79 399.03,256.72 398.97,256.65 398.92,256.57 398.87,256.49 398.45,255.65 398.44,255.63 398.42,255.62 395.71,253.80 395.63,253.75 395.56,253.68 394.26,252.39 394.20,252.32 394.14,252.24 394.09,252.16 394.05,252.07 394.01,251.98 393.99,251.89 393.97,251.79 393.97,251.70 393.97,251.60 393.98,251.51 394.01,251.41 394.04,251.32 394.07,251.23 395.56,248.27 395.61,248.18 395.67,248.10 395.74,248.02 399.34,244.42 399.42,244.35 404.04,240.64 404.06,240.63 404.07,240.61 404.50,239.30 404.54,239.21 404.58,239.12 404.64,239.04 404.70,238.96 404.77,238.89 404.85,238.83 404.93,238.77 404.86,238.82 403.92,236.96 405.94,230.91 407.84,226.17 406.50,225.62 401.74,223.71 397.71,221.29 397.66,221.46 393.81,221.05 393.81,223.00 389.39,217.10 383.84,215.25 380.01,211.42 375.26,208.57 372.13,204.39 372.13,203.13 372.19,203.13 367.52,203.50 367.50,203.50 367.49,203.52 365.64,206.85 365.62,206.91 363.89,211.21 363.85,211.30 363.79,211.39 363.73,211.47 363.66,211.55 363.59,211.62 363.50,211.68 363.41,211.73 358.16,214.37 358.10,214.40 352.69,218.00 352.61,218.05 352.53,218.09 352.45,218.12 352.36,218.15 352.28,218.16 346.50,218.98 346.41,218.99 346.32,218.99 346.22,218.98 346.13,218.96 346.04,218.94 345.95,218.90 345.87,218.86 345.79,218.81 345.71,218.75 345.65,218.69 345.58,218.62 342.21,214.40 342.19,214.38 342.17,214.37 339.02,213.45 339.00,213.44 339.01,213.46 340.27,218.00 340.29,218.09 340.31,218.18 340.31,218.27 340.31,222.93 340.31,223.03 340.29,223.13 340.27,223.22 340.23,223.31 340.19,223.40 340.14,223.49 340.08,223.56 340.02,223.64 339.95,223.70 339.87,223.76 339.78,223.81 339.69,223.85 339.60,223.89 339.51,223.91 335.94,224.63 335.84,224.64 335.74,224.65 335.64,224.64 335.54,224.63 335.44,224.60 335.34,224.57 330.02,222.26 330.00,222.25 329.98,222.25 324.40,221.50 324.38,221.50 324.36,221.51 318.77,222.80 318.75,222.81 318.74,222.83 317.82,226.54 317.81,226.56 317.83,226.58 320.61,229.36 320.63,229.38 320.65,229.39 326.19,232.16 326.30,232.22 331.75,235.85 331.83,235.92 331.91,235.98 331.98,236.06 335.56,240.55 335.63,240.63 335.68,240.72 338.41,246.19 338.46,246.32 340.26,251.73 340.29,251.83 340.30,251.94 340.31,252.04 340.31,258.28 340.30,258.38 340.29,258.49 340.26,258.59 338.44,264.05 338.44,264.07 336.59,270.54 336.56,270.63 336.52,270.71 333.76,276.23 333.75,276.25 333.76,276.27 334.05,277.44 334.07,277.54 334.08,277.63 334.08,277.73 334.07,277.83 334.05,277.92 334.02,278.02 333.99,278.11 333.94,278.19 333.89,278.27 333.87,278.29 338.66,281.96 344.10,284.69 351.60,286.56 357.30,289.40 362.87,291.82 365.75,292.85 365.73,292.92Z" fill="#0a6c36" stroke="#0a6c36" stroke-width="0.4" fill-rule="evenodd"/>
<path d="M392.46,220.91 397.66,221.46 398.93,217.16 397.23,212.33 391.72,213.15 392.46,220.91" fill="none" stroke="rgba(255,255,255,0.55)" stroke-width="0.8" stroke-linecap="round" stroke-linejoin="round"/>
<path d="M449.46,259.98 452.86,262.69 461.04,261.25 465.26,258.09 466.21,254.26 468.91,251.58 471.87,247.13 464.20,247.13 456.58,249.98 448.48,252.00 447.98,255.73 449.46,259.98" fill="none" stroke="rgba(255,255,255,0.55)" stroke-width="0.8" stroke-linecap="round" stroke-linejoin="round"/>
<path d="M375.26,208.57 380.01,211.42 383.84,215.25 389.39,217.10 393.81,223.00 393.81,221.05 393.76,221.05 M397.43,212.90 397.45,212.97 398.54,210.79 397.53,204.72 396.39,201.98 393.21,200.71 388.57,198.48 384.38,196.38 384.29,196.43 M372.13,203.39 372.13,204.39 375.26,208.57" fill="none" stroke="rgba(255,255,255,0.55)" stroke-width="0.8" stroke-linecap="round" stroke-linejoin="round"/>
<path d="M398.33,200.87 401.14,196.19 404.19,192.14 403.21,186.28 404.76,179.63 404.32,179.63 M396.75,202.85 396.77,202.90 398.33,200.87" fill="none" stroke="rgba(255,255,255,0.55)" stroke-width="0.8" stroke-linecap="round" stroke-linejoin="round"/>
<path d="M512.27,124.94 517.22,123.28 520.90,121.81 M503.45,125.63 507.59,124.15 512.27,124.94" fill="none" stroke="rgba(255,255,255,0.35)" stroke-width="0.8" stroke-linecap="round" stroke-linejoin="round"/>
<path d="M489.40,254.20 487.16,252.30 480.45,253.64 475.23,251.03 471.34,247.92 471.31,247.96 M469.77,246.67 469.46,247.13 469.52,247.13 M470.27,247.13 470.35,247.13 469.77,246.67" fill="none" stroke="rgba(255,160,160,0.7)" stroke-width="0.8" stroke-linecap="round" stroke-linejoin="round"/>
<path d="M473.96,224.01 471.13,227.27 472.94,232.94 478.29,235.08 485.27,234.48 490.23,232.10 494.92,228.35 500.30,225.66 507.14,224.68 507.46,224.20 M510.47,215.89 510.56,215.47 504.87,214.33 498.95,213.35 494.27,215.22 488.73,214.29 483.62,215.32 478.71,219.25 473.96,224.01" fill="none" stroke="rgba(255,160,160,0.7)" stroke-width="0.8" stroke-linecap="round" stroke-linejoin="round"/>
<path d="M523.39,141.66 516.96,141.66 512.50,140.92 507.58,138.45 501.02,140.58 493.13,141.69 487.53,144.64 M502.67,162.85 504.66,163.84 505.29,164.26" fill="none" stroke="rgba(255,255,255,0.35)" stroke-width="0.8" stroke-linecap="round" stroke-linejoin="round"/>
<path d="M444.78,206.90 439.76,210.92 437.64,215.17 438.67,220.37 441.68,225.36 446.86,229.51 452.36,228.48 457.99,227.54 462.68,226.61 467.90,225.74 471.40,228.13 471.38,228.05 M484.03,215.24 484.12,215.22 481.79,214.44 478.06,210.71 472.88,208.64 469.30,209.54 464.85,205.97 457.87,203.98 451.59,204.96 444.78,206.90" fill="none" stroke="rgba(255,255,255,0.4)" stroke-width="0.8" stroke-linecap="round" stroke-linejoin="round"/>
<path d="M277.31,323.39 276.34,317.58 278.16,312.12 279.07,306.67 282.70,302.13 285.55,297.39 288.33,292.75 291.63,288.35 288.04,284.76 282.14,282.78 277.49,281.85 273.21,279.99 M272.51,331.32 274.30,327.39 277.31,323.39" fill="none" stroke="rgba(255,230,120,0.7)" stroke-width="0.8" stroke-linecap="round" stroke-linejoin="round"/>
<path d="M442.45,231.71 441.46,237.58 441.06,238.94 434.90,241.44 430.33,239.98 419.62,241.59 M424.69,247.98 427.14,249.09 432.35,250.05 439.86,250.99 445.55,251.94 448.74,251.94 450.22,251.57 M470.98,247.13 471.03,247.13 472.85,238.07 474.36,233.51 474.32,233.49 M445.67,228.55 445.63,228.52 442.45,231.71" fill="none" stroke="rgba(255,255,255,0.55)" stroke-width="0.8" stroke-linecap="round" stroke-linejoin="round"/>
<path d="M553.29,289.67 543.75,290.87 538.63,290.23 533.35,292.20 530.25,293.76 M558.28,287.75 555.98,286.97 553.29,289.67" fill="none" stroke="rgba(255,255,255,0.55)" stroke-width="0.8" stroke-linecap="round" stroke-linejoin="round"/>
<path d="M503.95,250.44 505.37,249.86 508.41,244.80 510.29,239.17 513.07,234.54 516.15,228.37 515.59,227.52" fill="none" stroke="rgba(255,160,160,0.7)" stroke-width="0.8" stroke-linecap="round" stroke-linejoin="round"/>
<path d="M566.66,259.90 559.94,259.37 554.03,260.55 548.28,263.81 542.80,266.55 535.51,268.01 528.20,268.37 522.91,267.31" fill="none" stroke="rgba(255,160,160,0.7)" stroke-width="0.8" stroke-linecap="round" stroke-linejoin="round"/>
<path d="M397.38,266.13 398.48,270.51 401.02,273.05 399.14,277.74 400.75,279.35 M399.31,257.21 399.31,262.26 397.38,266.13" fill="none" stroke="rgba(255,255,255,0.55)" stroke-width="0.8" stroke-linecap="round" stroke-linejoin="round"/>
<path d="M451.21,188.35 452.16,195.96 455.04,200.76 456.42,204.21 456.54,204.19 M449.31,175.98 449.31,182.66 451.21,188.35" fill="none" stroke="rgba(255,255,255,0.55)" stroke-width="0.8" stroke-linecap="round" stroke-linejoin="round"/>
<path d="M473.58,20.36 476.24,26.57 478.10,34.05 480.55,40.62 481.81,45.15 M462.59,13.80 468.24,16.80 473.58,20.36" fill="none" stroke="rgba(255,255,255,0.55)" stroke-width="0.8" stroke-linecap="round" stroke-linejoin="round"/>
<path d="M401.74,223.71 406.50,225.62 407.84,226.17 405.94,230.91 403.92,236.96 404.74,238.59 M397.73,221.25 397.71,221.29 401.74,223.71" fill="none" stroke="rgba(255,255,255,0.55)" stroke-width="0.8" stroke-linecap="round" stroke-linejoin="round"/>
<path d="M365.52,292.77 362.87,291.82 357.30,289.40 351.60,286.56 344.10,284.69 338.66,281.96 334.07,278.44" fill="none" stroke="rgba(255,255,255,0.55)" stroke-width="0.8" stroke-linecap="round" stroke-linejoin="round"/>
<defs><radialGradient id="glow"><stop offset="0" stop-color="#e00000"/><stop offset="0.5" stop-color="#d80000"/><stop offset="0.75" stop-color="#cc0000" stop-opacity="0.75"/><stop offset="1" stop-color="#c00000" stop-opacity="0"/></radialGradient></defs>
<circle cx="508.8" cy="115.3" r="5.7" fill="url(#glow)"/>
<circle cx="515.3" cy="133" r="5.7" fill="url(#glow)"/>
<circle cx="506.7" cy="151" r="5.7" fill="url(#glow)"/>
<circle cx="466.6" cy="217" r="5.7" fill="url(#glow)"/>
<polygon points="206.9,340.3 223.75,345 244.4,349.7 260,352.75 280,356.3 300,359.3 320,362 336.9,364.4 360,366.5 380,367.75 398.1,368.1 398.3,364 400,364 400.2,368.3 407.5,372.8 416.9,374.7 424.4,376.6 431.9,377.5 436.6,378.4 431.9,382.2 426.25,386.9 422.5,391 430,389.7 436.6,391.6 445,386.9 452.5,382.5 450,385 447.8,386.5 450.6,389.4 456.25,390 460.6,391.9 465,390 470,388.75 473.75,388.5 477.5,390.6 481.25,393.1 483.75,394.4 483.1,395.2 478.75,395.8 475,395.2 471.25,395.8 467.5,396.9 464.4,398.1 461.9,399.4 460,402.5 457.5,406.25 454.6,412.3 455.8,411.9 458.75,407.5 461,405.4 460,407.5 458.1,412.5 457.25,420 456.25,426.25 456.9,432.5 458.75,438.75 461.25,443.5 463.1,443.75 466.25,441.25 469,439.4 470,436.25 469.4,432.5 468.75,427.5 467.5,422.5 466.9,417.5 467.5,412.5 469.4,407.5 471.9,403.1 473.75,401.25 475.6,399.4 477.5,398.1 482.5,400 486.9,403.75 488.75,408.75 487.5,413.75 486.25,417.5 490,416.9 493.75,415 496.25,420 497.5,425 496.9,428.75 495,432.5 493.1,436.25 492.5,438.75 498.75,441.9 505,438.75 514.7,434.4 520.3,430.6 525,424 525.9,418.4 530.6,416.6 538.1,414.7 543.75,412.8 544.7,408.1 542.8,405.3 545.6,400.6 550.3,395.9 555,394 561.9,392.8 566.6,391.6 571.25,390 576.7,386.9 579,385.3 581.4,382.2 583.75,377.5 585.3,371.25 586.1,365 587.7,358.75 591.6,359.5 593.9,358 597,359.5 598.6,365 600.2,370.5 602.5,374.4 606.4,377.5 608.75,380.9 606.4,383.75 602.5,385.3 600.2,388.4 597,390.8 593.9,393.9 590,397.8 587.7,402.5 586.9,407.2 589.2,411.9 591.6,416.6 590,418.1 593.9,418.1 596.6,417.3 594.7,420.5 590.8,421.25 587.7,422.8 585.3,425.4 582.2,428.4 577.5,430.3 571.9,432.5 569,434.6 569.4,441.25 568.4,446.9 566.6,452.5 563.75,455 561,452.5 559.5,449.5 561.9,458.1 563.75,463.75 562.8,469.4 560.9,475 560,476.9 561.9,482.5 562.8,488.1 563.75,493.75 560,497.5 560.9,502.2 556.25,505 552.5,508.75 548.75,512.5 545,516.25 541.25,520 537.5,525.6 533.75,531.25 530,535 526.25,538.75 524.4,544.4 523.4,550 522.7,555.8 526.1,562.7 530.4,569.5 534.7,576.4 538.1,583.3 541.6,590.2 543.3,597 543.6,603 542.4,607.3 539.8,609.9 536.4,608.2 533,604.8 529.5,599.6 525.2,595.3 521.8,591 519.2,588.4 517.5,585 518.4,580.7 516.6,576.4 514.9,572.1 511.8,567.8 507,564.8 501.5,564.3 496,566.3 492,568.4 486.5,566.6 479,564.8 472,564 469.7,565 468.75,564 466.9,561 465.9,564.5 457.5,565 449.6,566 451.9,570.6 455.6,576.25 453.75,578.1 450,574.4 446.25,576.25 440.6,578.1 435,576.25 427.5,574.4 420,573.4 411.25,573.4 403.75,574.4 400.9,576.25 396.25,580.9 391.6,584.7 385.9,587.5 381.25,591.25 377.1,596.9 375.6,602.5 376,608.1 377.5,613.75 372.8,611.9 366.25,610 360.6,606.25 357.8,600.6 355,595 351.25,589.4 348.4,582.8 344.7,576.25 340,572.5 334.4,571 328.75,574.4 324,577.2 318.4,573.4 313.75,568.75 310,563.1 306.9,556.25 301.25,548.75 297.5,543.9 281.6,544 281,546.9 272.5,546.3 261.25,541.25 244.4,533.75 227.5,526.25 225.6,522.5 212.5,521 205,519.7 204,515 201.25,509.4 197.5,502.8 190.9,498.1 184.4,493.4 180.6,486.9 178.75,477.5 175.9,468.1 173.1,460.6 174,453.1 171.25,447.5 170.3,442.5 168.4,431.25 167.5,421.9 171.25,414.4 173.1,406.9 176.9,395.6 181.6,384.4 186.25,373.1 189,364.7 190,358.1 189,350.6 190,343.1 192.8,342.2 197.5,346.9 202.2,347.8 205,344" fill="#92d050"/>
<polygon points="206.9,340.3 223.75,345 244.4,349.7 241.6,363.75 238.75,380.25 240.25,385.3 236.9,391.9 233.1,397.5 231.25,405 228.4,421.9 205,417.2 197.5,446.4 232.2,496.25 230.3,500 232.2,508.4 228.4,515 225.6,522.5 212.5,521 205,519.7 204,515 201.25,509.4 197.5,502.8 190.9,498.1 184.4,493.4 180.6,486.9 178.75,477.5 175.9,468.1 173.1,460.6 174,453.1 171.25,447.5 170.3,442.5 168.4,431.25 167.5,421.9 171.25,414.4 173.1,406.9 176.9,395.6 181.6,384.4 186.25,373.1 189,364.7 190,358.1 189,350.6 190,343.1 192.8,342.2 197.5,346.9 202.2,347.8 205,344" fill="#0db050"/>
<polygon points="336.9,364.4 360,366.5 380,367.75 398.1,368.1 398.3,364 400,364 400.2,368.3 407.5,372.8 416.9,374.7 424.4,376.6 431.9,377.5 436.6,378.4 431.9,382.2 426.25,386.9 422.5,391 430,389.7 436.6,391.6 445,386.9 452.5,382.5 450,385 447.8,386.5 450.6,389.4 456.25,390 460.6,391.9 465,390 470,388.75 473.75,388.5 477.5,390.6 481.25,393.1 483.75,394.4 483.1,395.2 478.75,395.8 475,395.2 471.25,395.8 467.5,396.9 464.4,398.1 461.9,399.4 460,402.5 457.5,406.25 454.6,412.3 455.8,411.9 458.75,407.5 461,405.4 460,407.5 458.1,412.5 457.25,420 456.25,426.25 456.9,432.5 458.75,438.75 461.25,443.5 463.1,443.75 466.25,441.25 469,439.4 470,436.25 469.4,432.5 468.75,427.5 467.5,422.5 466.9,417.5 467.5,412.5 469.4,407.5 471.9,403.1 473.75,401.25 475.6,399.4 477.5,398.1 482.5,400 486.9,403.75 488.75,408.75 487.5,413.75 486.25,417.5 490,416.9 493.75,415 496.25,420 497.5,425 496.9,428.75 495,432.5 493.1,436.25 492.5,438.75 498.75,441.9 505,438.75 514.7,434.4 518.75,457.2 516.9,461.9 512.2,464.7 509.4,469.4 506.6,472.2 504.7,475.9 506.6,480.6 508.4,484.4 506.6,488.1 503.75,490.9 513.1,494.1 510.3,498.4 505.6,502.2 500.9,505 496.25,508.75 493.4,511.6 483.1,512.5 485.9,523.75 488.2,532 490.3,540.6 490.3,548.1 491.25,555.6 470.6,558.4 469.7,565 468.75,564 466.9,561 465.9,564.5 457.5,565 449.6,566 449,559.4 431.6,558.6 432.2,553.75 435,548.1 436.9,542.5 435,535 435.7,528.1 438.4,522.5 442.2,516.9 444,513.1 445.9,505.6 441.25,504.7 442.2,500.4 404.7,500.9 403.75,496.25 380,495.3 342.5,493.4 344,450.9 329.4,448.6 331.25,428.1 332.75,405.6 335,396.25 336.9,364.4" fill="#0db050"/>
<polygon points="514.7,434.4 520.3,430.6 525,424 525.9,418.4 530.6,416.6 538.1,414.7 543.75,412.8 544.7,408.1 542.8,405.3 545.6,400.6 550.3,395.9 555,394 561.9,392.8 566.6,391.6 571.25,390 576.7,386.9 579,385.3 581.4,382.2 583.75,377.5 585.3,371.25 586.1,365 587.7,358.75 591.6,359.5 593.9,358 597,359.5 598.6,365 600.2,370.5 602.5,374.4 606.4,377.5 608.75,380.9 606.4,383.75 602.5,385.3 600.2,388.4 597,390.8 593.9,393.9 590,397.8 587.7,402.5 586.9,407.2 589.2,411.9 591.6,416.6 590,418.1 593.9,418.1 596.6,417.3 594.7,420.5 590.8,421.25 587.7,422.8 585.3,425.4 582.2,428.4 577.5,430.3 571.9,432.5 569,434.6 569.4,441.25 568.4,446.9 566.6,452.5 563.75,455 561,452.5 559.5,449.5 518.75,457.2" fill="#0a6c36"/>
<polygon points="570,436.1 574.7,434.6 579.4,432.7 582.75,431 581.25,433.1 576.6,435.5 571.9,437.6 569.6,437.6" fill="#0a6c36"/>
<path d="M189,364.7 194.7,366.6 196.6,372.2 203.1,375 212.5,375.9 221.9,376.9 231.25,378.75 238.75,380.25 M173.1,406.9 205,417.2 M335,396.25 370,399.2 388.75,400.2 M385,367.75 385.9,377.5 387.8,388.75 388.75,400 386.9,403.75 388.75,411.25 389.7,426.25 388.75,433.75 390.6,441.25 392.5,448.75 395.3,458.1 395.3,463.4 398.1,466.25 402.8,471.9 403.75,496.25 M331.25,428.1 368.75,430.3 377.5,432.5 383.1,433.75 388.75,434.5 M389.7,426.25 430,425.3 M422.5,391 421.6,396.25 416.9,401 416.9,409.4 420.6,414 426.25,418.75 430,425.3 431,431.9 435.6,437.5 438.4,442.2 436.6,446.9 432.8,450.6 431.9,457.2 430,464.4 434.7,471.9 439.4,477.5 442.2,483.1 446.9,487.8 448.75,492.5 447.8,496.25 445.9,501.9 445.9,505.6 M395.3,457.6 431.9,457 M344,462.1 380,462.9 395.3,463.4 M435.6,436.6 456.25,434.7 M436.6,391.6 445,395.3 452.5,398.1 457.3,406.3 M461.8,443.6 461.5,460 461.9,473.75 460,481.25 457.2,486 452.5,490.6 448.75,493.4 M469,439.6 481.25,440.2 492.5,438.9 M482.5,440.2 483.4,460 484.6,469 M449.7,493.4 456.25,489.7 461.9,485 467.5,483.1 473.1,480.3 478.75,475.6 484.4,470.5 487.5,468.6 490.6,471.25 496.25,472.2 500.9,474 504.7,475.9 M447.8,497.6 460,497.2 490,495.3 500.9,494.7 513.1,494.1 M444,516 460,515 483.1,512.5 M460,515 460.6,540 461.25,565" fill="none" stroke="#93e4a0" stroke-width="1.15" stroke-linejoin="round" stroke-linecap="round" opacity="0.9"/>
<path d="M244.4,349.7 241.6,363.75 238.75,380.25 240.25,385.3 236.9,391.9 233.1,397.5 231.25,405 228.4,421.9 M205,417.2 228.4,421.9 M205,417.2 197.5,446.4 232.2,496.25 230.3,500 232.2,508.4 228.4,515 225.6,522.5 M329.4,448.75 344,450.9 M336.9,364.4 335,396.25 332.75,405.6 331.25,428.1 329.4,448.6 344,450.9 342.5,493.4 380,495.3 403.75,496.25 404.7,500.9 442.2,500.4 441.25,504.7 445.9,505.6 M445.9,505.6 444,513.1 442.2,516.9 438.4,522.5 435.7,528.1 435,535 436.9,542.5 435,548.1 432.2,553.75 431.6,558.6 449,559.4 449.6,566 M483.1,512.5 493.4,511.6 M518.75,457.2 516.9,461.9 512.2,464.7 509.4,469.4 506.6,472.2 504.7,475.9 506.6,480.6 508.4,484.4 506.6,488.1 503.75,490.9 513.1,494.1 510.3,498.4 505.6,502.2 500.9,505 496.25,508.75 493.4,511.6 483.1,512.5 485.9,523.75 488.2,532 490.3,540.6 490.3,548.1 491.25,555.6 470.6,558.4 469.7,565" fill="none" stroke="#c4f0a8" stroke-width="1.15" stroke-linejoin="round" stroke-linecap="round" opacity="0.9"/>
<path d="M228.4,421.9 250,427.5 274.4,431.5 M250.9,351 250.9,358.1 253.75,367.5 257.5,373.1 258.4,380.6 256.6,386.25 259.4,390 262.2,393.75 264,401.25 268.75,403.5 276.25,404 279.5,401 M279.5,401 277.2,416.25 274.4,431.5 273.1,442.2 M250,427.5 248.1,440 242.1,479.75 M273.1,442.2 288.1,445 329.4,448.75 M288.1,445 282.5,487.25 M232.2,496.25 233.1,489.1 239.7,487.8 242.1,479.75 260,483.1 282.5,487.25 342.5,493.4 M282.5,487.25 274,546 M332.2,494.4 327.5,546 297.5,543.7 M332.2,499.6 357.5,500.4 357.5,520.6 362.2,523.9 368.75,526.3 374.4,528.4 381.25,529.6 388.75,530.5 398.1,530 405.6,531.9 409.4,533.75 M404.7,500.9 405.6,530 409.4,533.75 410.3,538.4 412.2,548.75 410.8,552 412.75,559.4 412.4,567 411.3,573 M410.3,538.4 432.8,537.5 M279.7,400.4 332.2,406.6 M493.4,511.6 503.75,510.6 M513.1,492.8 561.9,485.3 M508.4,484.4 513.1,486.25 518.75,483.4 524.4,478.75 528.1,474 531.9,469.4 534.7,463.75 538.4,460 542.2,457.2 546,454 548,452 M542.2,457.2 549,462 552,468 557,472 M559.5,450 560.5,458 563.5,462.5 M503.75,510.6 507.5,507.8 516.9,506.9 524.4,508.75 530,507.8 535.6,510.6 545,516.25 M503.75,510.6 511.25,518.1 518.75,527.5 526.25,538.75 M491.25,556 519.5,557.1 521,554.5 522.7,555.8" fill="none" stroke="#d6f3a6" stroke-width="1.15" stroke-linejoin="round" stroke-linecap="round" opacity="0.9"/>
<path d="M514.7,434.4 518.75,457.2 M518.75,457.2 559.5,449.5" fill="none" stroke="#b5e0a0" stroke-width="1.15" stroke-linejoin="round" stroke-linecap="round" opacity="0.9"/>
<path d="M521.25,432.5 555,426 557.8,428.75 561.6,432.5 559.7,437.2 562.5,441.9 563.4,445.6 559.7,449.4 M561.6,432.5 569.6,434.4 M561.9,393.1 564.2,401 567.3,408.75 568.9,414.2 569.7,421.25 571.25,430.6 569.4,435.3 M576.7,386.9 575.6,394.7 574.4,402.5 574,411.9 M579,385.3 582.2,394.7 585.3,402.5 586.9,406.4 M568.9,414.2 574,412.2 586.1,409.5 M569.7,421.25 582.2,418.9 586.9,421.25 M582.2,418.9 584.5,425.2" fill="none" stroke="#86c592" stroke-width="1.15" stroke-linejoin="round" stroke-linecap="round" opacity="0.9"/>
<polygon points="554,455.31 555.31,454.38 556.63,458.13 557.19,463.75 558.13,469.38 559.63,475 558.31,475.94 556.44,472.19 554.94,466.56 553.81,460.94" fill="#ffffff"/>
<polygon points="204.63,345.94 206.13,348.38 203.5,352.5 200.69,358.5 199,358.13 201.63,352.13 203.31,348.19" fill="#ffffff"/>
<polygon points="174.25,452.38 178.75,453.5 178.38,455 175.38,454.63 175,457.25 173.69,456.88" fill="#ffffff"/>
<polygon points="559.63,490.38 561.88,494.69 560.75,497.88 559.25,495.63 558.13,491.88" fill="#ffffff"/>
<polygon points="194.53,549.3 200.63,552.34 210.78,554.38 222.97,557.42 225,574.69 227.64,590.94 230.08,608.2 237.19,611.25 243.28,610.24 249.38,608.81 256.49,614.3 262.58,621.41 268.06,625.06 267.05,631.56 260.55,631.97 254.45,627.5 248.36,622.42 242.27,617.75 236.17,614.3 230.08,610.24 220.94,608.61 215.86,605.16 210.78,607.19 205.7,611.25 202.66,614.3 206.72,608.2 203.67,609.22 198.59,616.33 193.52,622.42 186.41,627.5 178.28,631.56 170.16,633.6 162.03,635.83 161.63,634.2 170.16,631.56 178.28,628.52 185.39,624.45 189.45,619.38 188.44,616.33 183.36,617.35 177.27,615.31 175.23,610.24 176.25,606.17 172.19,602.11 168.13,599.06 167.11,595 171.17,591.95 177.27,589.92 181.33,586.88 180.31,581.8 176.25,579.77 171.17,577.74 169.14,574.69 172.19,571.64 178.28,572.66 182.34,572.66 180.31,568.59 176.25,564.53 174.22,560.47 179.3,557.42 184.38,554.38 190.47,551.33" fill="#0db050"/>
<polygon points="195.55,623.44 199,621.41 199.81,623.03 196.56,625.47" fill="#0db050"/>
<polygon points="333.44,618.44 338.13,616.56 341.88,619.38 344.69,623.13 346.56,626.88 342.81,629.69 339.06,631.56 336.25,633.44 333.44,630.63 332.13,624.06" fill="#0db050"/>
<polygon points="325.94,607.19 330.63,606.63 332.5,609.63 329.69,611.5 326.88,610" fill="#0db050"/>
<polygon points="317.5,604.38 320.31,604 321.25,605.88 318.44,606.44" fill="#0db050"/>
<polygon points="322.75,606.63 325,606.44 325,607.56 323.13,607.75" fill="#0db050"/>
<ellipse cx="288.6" cy="591.7" rx="2.6" ry="1.9" fill="#0db050"/>
<ellipse cx="307.6" cy="600" rx="2.7" ry="1.9" fill="#0db050" transform="rotate(25 307.6 600)"/>
<circle cx="279.2" cy="594" r="0.9" fill="#0db050"/>
<path d="M188.75,322 C191.04,322.83 197.29,325.25 202.50,327.00 C207.71,328.75 213.75,330.42 220.00,332.50 C226.25,334.58 233.33,337.38 240.00,339.50 C246.67,341.62 253.33,343.53 260.00,345.20 C266.67,346.87 273.33,348.28 280.00,349.50 C286.67,350.72 291.67,351.50 300.00,352.50 C308.33,353.50 318.33,354.33 330.00,355.50 C341.67,356.67 359.58,358.65 370.00,359.50 C380.42,360.35 385.00,360.25 392.50,360.60 C400.00,360.95 407.50,361.03 415.00,361.60 C422.50,362.17 430.00,362.92 437.50,364.00 C445.00,365.08 453.12,366.78 460.00,368.10 C466.88,369.42 473.54,370.70 478.75,371.90 C483.96,373.10 486.67,374.12 491.25,375.30 C495.83,376.48 501.25,377.97 506.25,379.00 C511.25,380.03 516.25,380.96 521.25,381.50 C526.25,382.04 531.56,382.33 536.25,382.25 C540.94,382.17 545.39,381.84 549.40,381.00 C553.41,380.16 556.92,378.82 560.30,377.20 C563.68,375.57 566.97,373.55 569.70,371.25 C572.43,368.95 574.75,366.14 576.70,363.40 C578.65,360.66 579.97,357.40 581.40,354.80 C582.83,352.20 583.60,349.48 585.30,347.80 C587.00,346.12 589.25,345.22 591.60,344.70 C593.95,344.18 596.80,344.32 599.40,344.70 C602.00,345.08 604.08,345.57 607.20,347.00 C610.32,348.43 614.47,351.22 618.10,353.30 C621.73,355.38 625.02,357.38 629.00,359.50 C632.98,361.62 639.83,364.92 642.00,366.00" fill="none" stroke="#4783ad" stroke-width="1.25" stroke-dasharray="4.6 3"/>
<path d="M188.75,325.75 C191.04,326.58 197.29,328.96 202.50,330.75 C207.71,332.54 213.75,334.46 220.00,336.50 C226.25,338.54 233.33,340.93 240.00,343.00 C246.67,345.07 253.33,347.23 260.00,348.90 C266.67,350.57 273.33,351.77 280.00,353.00 C286.67,354.23 291.67,355.17 300.00,356.25 C308.33,357.33 318.33,358.26 330.00,359.50 C341.67,360.74 359.58,362.82 370.00,363.70 C380.42,364.57 385.00,364.38 392.50,364.75 C400.00,365.12 407.50,365.40 415.00,365.90 C422.50,366.40 430.00,366.75 437.50,367.75 C445.00,368.75 453.12,370.52 460.00,371.90 C466.88,373.27 473.54,374.82 478.75,376.00 C483.96,377.18 486.67,377.87 491.25,379.00 C495.83,380.13 501.25,381.76 506.25,382.80 C511.25,383.84 516.25,384.72 521.25,385.25 C526.25,385.78 531.29,386.12 536.25,386.00 C541.21,385.88 546.73,385.33 551.00,384.50 C555.27,383.67 558.52,382.68 561.90,381.00 C565.27,379.32 568.40,376.93 571.25,374.40 C574.10,371.87 576.92,368.67 579.00,365.80 C581.08,362.93 582.30,359.62 583.75,357.20 C585.20,354.77 586.14,352.68 587.70,351.25 C589.26,349.82 591.15,349.04 593.10,348.60 C595.05,348.16 597.05,348.20 599.40,348.60 C601.75,349.00 604.08,349.57 607.20,351.00 C610.32,352.43 614.47,355.13 618.10,357.20 C621.73,359.27 625.02,361.27 629.00,363.40 C632.98,365.53 639.83,368.90 642.00,370.00" fill="none" stroke="#933036" stroke-width="1.25" stroke-dasharray="4.6 3"/>
<path d="M392,348.5V360.2 M392,355H543.7V360 M487,349.5V355" fill="none" stroke="#7f7f7f" stroke-width="1.3"/>
<text x="392" y="347.3" font-size="6.3" fill="#808080" text-anchor="middle" font-weight="bold">0</text>
<text x="479.5" y="347.3" font-size="6.3" fill="#808080" textLength="20.5" lengthAdjust="spacingAndGlyphs" font-weight="bold">1000 km</text>
<text x="536" y="366.6" font-size="6.3" fill="#808080" textLength="26" lengthAdjust="spacingAndGlyphs" font-weight="bold">1000 miles</text>
<rect x="589.6" y="3.6" width="46.8" height="28.7" fill="#2049a6" stroke="#0c1c4c" stroke-width="1"/>
<circle cx="612.90" cy="9.90" r="1.15" fill="#ccd6e2"/>
<circle cx="616.90" cy="10.97" r="1.15" fill="#ccd6e2"/>
<circle cx="619.83" cy="13.90" r="1.15" fill="#ccd6e2"/>
<circle cx="620.90" cy="17.90" r="1.15" fill="#ccd6e2"/>
<circle cx="619.83" cy="21.90" r="1.15" fill="#ccd6e2"/>
<circle cx="616.90" cy="24.83" r="1.15" fill="#ccd6e2"/>
<circle cx="612.90" cy="25.90" r="1.15" fill="#ccd6e2"/>
<circle cx="608.90" cy="24.83" r="1.15" fill="#ccd6e2"/>
<circle cx="605.97" cy="21.90" r="1.15" fill="#ccd6e2"/>
<circle cx="604.90" cy="17.90" r="1.15" fill="#ccd6e2"/>
<circle cx="605.97" cy="13.90" r="1.15" fill="#ccd6e2"/>
<circle cx="608.90" cy="10.97" r="1.15" fill="#ccd6e2"/>
<rect x="589.6" y="607.4" width="47" height="29.2" fill="#ffffff"/>
<rect x="589.6" y="607.40" width="47" height="3.24" fill="#b4342c"/>
<rect x="589.6" y="613.89" width="47" height="3.24" fill="#b4342c"/>
<rect x="589.6" y="620.38" width="47" height="3.24" fill="#b4342c"/>
<rect x="589.6" y="626.87" width="47" height="3.24" fill="#b4342c"/>
<rect x="589.6" y="633.36" width="47" height="3.24" fill="#b4342c"/>
<rect x="589.6" y="607.4" width="24.2" height="16.2" fill="#203a78"/>
<circle cx="593.20" cy="611.20" r="1.1" fill="#dfe9ff"/>
<circle cx="599.25" cy="611.20" r="1.1" fill="#dfe9ff"/>
<circle cx="605.30" cy="611.20" r="1.1" fill="#dfe9ff"/>
<circle cx="611.35" cy="611.20" r="1.1" fill="#dfe9ff"/>
<circle cx="596.30" cy="614.25" r="1.1" fill="#dfe9ff"/>
<circle cx="602.35" cy="614.25" r="1.1" fill="#dfe9ff"/>
<circle cx="608.40" cy="614.25" r="1.1" fill="#dfe9ff"/>
<circle cx="593.20" cy="617.30" r="1.1" fill="#dfe9ff"/>
<circle cx="599.25" cy="617.30" r="1.1" fill="#dfe9ff"/>
<circle cx="605.30" cy="617.30" r="1.1" fill="#dfe9ff"/>
<circle cx="611.35" cy="617.30" r="1.1" fill="#dfe9ff"/>
<circle cx="596.30" cy="620.35" r="1.1" fill="#dfe9ff"/>
<circle cx="602.35" cy="620.35" r="1.1" fill="#dfe9ff"/>
<circle cx="608.40" cy="620.35" r="1.1" fill="#dfe9ff"/>
<rect x="589.6" y="607.4" width="47" height="29.2" fill="none" stroke="#1c1c28" stroke-width="0.9"/>
<text y="32.8" font-size="39" fill="#ffffff" stroke="#3f3f3f" stroke-width="0.7"><tspan x="39.45" textLength="100.72" lengthAdjust="spacingAndGlyphs">Inflation</tspan> <tspan x="146.46" textLength="55.79" lengthAdjust="spacingAndGlyphs">(July</tspan> <tspan x="209.17" textLength="58.61" lengthAdjust="spacingAndGlyphs">2021</tspan> <tspan x="278.17" textLength="23.51" lengthAdjust="spacingAndGlyphs">to</tspan> <tspan x="308.34" textLength="41.46" lengthAdjust="spacingAndGlyphs">July</tspan> <tspan x="356.60" textLength="71.33" lengthAdjust="spacingAndGlyphs">2022)</tspan></text>
<text y="65" font-size="24.5" fill="#bfbfbf"><tspan x="87.07" textLength="54.90" lengthAdjust="spacingAndGlyphs">(prices</tspan> <tspan x="145.81" textLength="66.97" lengthAdjust="spacingAndGlyphs">increase</tspan> <tspan x="217.38" textLength="16.49" lengthAdjust="spacingAndGlyphs">in</tspan> <tspan x="238.73" textLength="24.97" lengthAdjust="spacingAndGlyphs">the</tspan> <tspan x="269.82" textLength="31.70" lengthAdjust="spacingAndGlyphs">past</tspan> <tspan x="308.29" textLength="19.18" lengthAdjust="spacingAndGlyphs">12</tspan> <tspan x="332.56" textLength="67.71" lengthAdjust="spacingAndGlyphs">months)</tspan></text>
<rect x="6.4" y="69.2" width="41.3" height="41.5" fill="#0a6c36"/>
<text y="98" font-size="26.2" fill="#2a2a2a"><tspan x="53.14" textLength="34.96" lengthAdjust="spacingAndGlyphs">Less</tspan> <tspan x="92.72" textLength="35.98" lengthAdjust="spacingAndGlyphs">than</tspan> <tspan x="132.86" textLength="39.77" lengthAdjust="spacingAndGlyphs">7.5%</tspan></text>
<rect x="6.4" y="116.0" width="41.3" height="40.9" fill="#0db050"/>
<text y="144.5" font-size="26.2" fill="#2a2a2a"><tspan x="53.61" textLength="39.51" lengthAdjust="spacingAndGlyphs">7.5%</tspan></text>
<rect x="6.6" y="161.7" width="41.3" height="40.6" fill="#92d050"/>
<text y="190.5" font-size="26.2" fill="#2a2a2a"><tspan x="53.71" textLength="24.39" lengthAdjust="spacingAndGlyphs">9%</tspan></text>
<rect x="7.0" y="207.8" width="41.3" height="40.6" fill="#ffc000"/>
<text y="236.2" font-size="26.2" fill="#2a2a2a"><tspan x="54.27" textLength="49.45" lengthAdjust="spacingAndGlyphs">10.5%</tspan></text>
<rect x="7.0" y="253.4" width="41.3" height="41.0" fill="#c00000"/>
<text y="282.2" font-size="26.2" fill="#2a2a2a"><tspan x="54.28" textLength="34.74" lengthAdjust="spacingAndGlyphs">12%</tspan></text>
<rect x="7.0" y="299.8" width="41.3" height="41.0" fill="#404040"/>
<text y="328.3" font-size="26.2" fill="#2a2a2a"><tspan x="54.27" textLength="49.45" lengthAdjust="spacingAndGlyphs">13.5%</tspan></text>
<rect x="7.0" y="344.8" width="41.3" height="40.8" fill="#404040"/>
<text y="373.3" font-size="26.2" fill="#2a2a2a"><tspan x="53.08" textLength="45.00" lengthAdjust="spacingAndGlyphs">More</tspan> <tspan x="102.22" textLength="35.88" lengthAdjust="spacingAndGlyphs">than</tspan> <tspan x="141.75" textLength="35.48" lengthAdjust="spacingAndGlyphs">15%</tspan></text>
<circle cx="28" cy="365" r="9.6" fill="url(#glow)"/>
<text y="146.3" font-size="17" fill="#404040"><tspan x="115.59" textLength="16.35" lengthAdjust="spacingAndGlyphs" fill="#a65356">US</tspan> <tspan x="134.48" textLength="23.42" lengthAdjust="spacingAndGlyphs" fill="#404040">uses</tspan> <tspan x="161.48" textLength="17.17" lengthAdjust="spacingAndGlyphs" fill="#404040">CPI</tspan> <tspan x="181.10" textLength="11.06" lengthAdjust="spacingAndGlyphs" fill="#404040">to</tspan> <tspan x="195.59" textLength="47.04" lengthAdjust="spacingAndGlyphs" fill="#404040">calculate</tspan> <tspan x="246.36" textLength="43.15" lengthAdjust="spacingAndGlyphs" fill="#404040">inflation</tspan></text>
<text y="166" font-size="17" fill="#404040"><tspan x="150.70" textLength="16.24" lengthAdjust="spacingAndGlyphs" fill="#a65356">US</tspan> <tspan x="169.47" textLength="42.84" lengthAdjust="spacingAndGlyphs" fill="#404040">inflation</tspan> <tspan x="214.76" textLength="6.88" lengthAdjust="spacingAndGlyphs" fill="#404040">is</tspan> <tspan x="225.85" textLength="28.59" lengthAdjust="spacingAndGlyphs" fill="#404040">8.5%</tspan></text>
<text y="206.5" font-size="17" fill="#404040"><tspan x="112.11" textLength="15.02" lengthAdjust="spacingAndGlyphs" fill="#5f94b2">EU</tspan> <tspan x="130.08" textLength="23.32" lengthAdjust="spacingAndGlyphs" fill="#404040">uses</tspan> <tspan x="156.63" textLength="25.22" lengthAdjust="spacingAndGlyphs" fill="#404040">HICP</tspan> <tspan x="185.50" textLength="11.16" lengthAdjust="spacingAndGlyphs" fill="#404040">to</tspan> <tspan x="200.09" textLength="47.04" lengthAdjust="spacingAndGlyphs" fill="#404040">calculate</tspan> <tspan x="250.77" textLength="42.63" lengthAdjust="spacingAndGlyphs" fill="#404040">inflation</tspan></text>
<text y="225.4" font-size="17" fill="#404040"><tspan x="151.61" textLength="15.02" lengthAdjust="spacingAndGlyphs" fill="#5f94b2">EU</tspan> <tspan x="169.47" textLength="42.84" lengthAdjust="spacingAndGlyphs" fill="#404040">inflation</tspan> <tspan x="214.76" textLength="6.88" lengthAdjust="spacingAndGlyphs" fill="#404040">is</tspan> <tspan x="225.81" textLength="28.64" lengthAdjust="spacingAndGlyphs" fill="#404040">9.8%</tspan></text>
<text transform="translate(627,275.61) rotate(-90) scale(0.6000,1)" font-size="49" letter-spacing="3.27" fill="#1f679f" stroke="#ffffff" stroke-width="0.8">European</text>
<text transform="translate(627,124.57) rotate(-90) scale(0.6000,1)" font-size="49" letter-spacing="4.82" fill="#1f679f" stroke="#ffffff" stroke-width="0.8">Union</text>
<text transform="translate(630,600.52) rotate(-90) scale(0.5900,1)" font-size="51" letter-spacing="3.79" fill="#9e1b24" stroke="#ffffff" stroke-width="0.8">United</text>
<text transform="translate(630,497.07) rotate(-90) scale(0.5900,1)" font-size="51" letter-spacing="1.64" fill="#9e1b24" stroke="#ffffff" stroke-width="0.8">States</text>
<text x="504.8" y="15.8" font-size="11.8" fill="#5088b0" textLength="81" lengthAdjust="spacingAndGlyphs" stroke="#5088b0" stroke-width="0.3">Area 4.2 million km²</text>
<text x="508.8" y="30.2" font-size="11.8" fill="#5088b0" textLength="74" lengthAdjust="spacingAndGlyphs" stroke="#5088b0" stroke-width="0.3">(1.6 million sq mi)</text>
<text x="536.1" y="90.8" font-size="11.8" fill="#5088b0" textLength="44.5" lengthAdjust="spacingAndGlyphs" stroke="#5088b0" stroke-width="0.3">Population</text>
<text x="536.1" y="105.7" font-size="11.8" fill="#5088b0" textLength="45.3" lengthAdjust="spacingAndGlyphs" stroke="#5088b0" stroke-width="0.3">447 million</text>
<text x="521.3" y="119.2" font-size="10.4" fill="#555555" textLength="46" lengthAdjust="spacingAndGlyphs" stroke="#555555" stroke-width="0.2">Estonia 23.2%</text>
<text x="530.5" y="138" font-size="10.4" fill="#555555" textLength="40" lengthAdjust="spacingAndGlyphs" stroke="#555555" stroke-width="0.2">Latvia 21.3%</text>
<text x="522.8" y="156.7" font-size="10.4" fill="#555555" textLength="47.5" lengthAdjust="spacingAndGlyphs" stroke="#555555" stroke-width="0.2">Lithuania 20.9%</text>
<text x="541.9" y="544.1" font-size="11.8" fill="#9c3a40" textLength="43.5" lengthAdjust="spacingAndGlyphs" stroke="#9c3a40" stroke-width="0.3">Population</text>
<text x="541.5" y="559.2" font-size="11.8" fill="#9c3a40" textLength="44.5" lengthAdjust="spacingAndGlyphs" stroke="#9c3a40" stroke-width="0.3">333 million</text>
<text x="505.5" y="617.7" font-size="11.8" fill="#9c3a40" textLength="81" lengthAdjust="spacingAndGlyphs" stroke="#9c3a40" stroke-width="0.3">Area 9.8 million km²</text>
<text x="509" y="633" font-size="11.8" fill="#9c3a40" textLength="74" lengthAdjust="spacingAndGlyphs" stroke="#9c3a40" stroke-width="0.3">(3.8 million sq mi)</text>
<text x="35.7" y="418.5" font-size="12" fill="#a3a3a3" textLength="102.7" lengthAdjust="spacingAndGlyphs">Source EU: Statista Inflation</text>
<text x="38.5" y="432.7" font-size="12" fill="#a3a3a3" textLength="97" lengthAdjust="spacingAndGlyphs">European Union July 2022</text>
<text x="31" y="460.8" font-size="12" fill="#a3a3a3" textLength="112" lengthAdjust="spacingAndGlyphs">Source US: BLS.gov Consumer</text>
<text x="46.4" y="474.4" font-size="12" fill="#a3a3a3" textLength="81.6" lengthAdjust="spacingAndGlyphs">Prices Index July 2022</text>
<text x="3.9" y="509.6" font-size="11.6" fill="#a3a3a3" textLength="166.2" lengthAdjust="spacingAndGlyphs">Member states with more than 10 million people:</text>
<text x="3.9" y="522.3" font-size="11.6" fill="#b0b0b0" textLength="187.3" lengthAdjust="spacingAndGlyphs"><tspan fill="#5a8cae" stroke="#5a8cae" stroke-width="0.18">Germany</tspan><tspan fill="#b0b0b0"> 84, </tspan><tspan fill="#5a8cae" stroke="#5a8cae" stroke-width="0.18">France</tspan><tspan fill="#b0b0b0"> 68, </tspan><tspan fill="#5a8cae" stroke="#5a8cae" stroke-width="0.18">Italy</tspan><tspan fill="#b0b0b0"> 59, </tspan><tspan fill="#5a8cae" stroke="#5a8cae" stroke-width="0.18">Spain</tspan><tspan fill="#b0b0b0"> 47, </tspan><tspan fill="#9e484e" stroke="#9e484e" stroke-width="0.18">California</tspan><tspan fill="#b0b0b0"> 40,</tspan></text>
<text x="3.9" y="534.5" font-size="11.6" fill="#b0b0b0" textLength="195" lengthAdjust="spacingAndGlyphs"><tspan fill="#5a8cae" stroke="#5a8cae" stroke-width="0.18">Poland</tspan><tspan fill="#b0b0b0"> 38, </tspan><tspan fill="#9e484e" stroke="#9e484e" stroke-width="0.18">Texas</tspan><tspan fill="#b0b0b0"> 30, </tspan><tspan fill="#9e484e" stroke="#9e484e" stroke-width="0.18">Florida</tspan><tspan fill="#b0b0b0"> 22, </tspan><tspan fill="#9e484e" stroke="#9e484e" stroke-width="0.18">New York</tspan><tspan fill="#b0b0b0"> 19, </tspan><tspan fill="#5a8cae" stroke="#5a8cae" stroke-width="0.18">Romania</tspan><tspan fill="#b0b0b0"> 19,</tspan></text>
<text x="3.9" y="547" font-size="11.6" fill="#b0b0b0" textLength="220.3" lengthAdjust="spacingAndGlyphs"><tspan fill="#5a8cae" stroke="#5a8cae" stroke-width="0.18">Netherlands</tspan><tspan fill="#b0b0b0"> 18, </tspan><tspan fill="#9e484e" stroke="#9e484e" stroke-width="0.18">Pennsylvania</tspan><tspan fill="#b0b0b0"> 13, </tspan><tspan fill="#9e484e" stroke="#9e484e" stroke-width="0.18">Illinois</tspan><tspan fill="#b0b0b0"> 13, </tspan><tspan fill="#9e484e" stroke="#9e484e" stroke-width="0.18">Ohio</tspan><tspan fill="#b0b0b0"> 12, </tspan><tspan fill="#5a8cae" stroke="#5a8cae" stroke-width="0.18">Belgium</tspan><tspan fill="#b0b0b0"> 12,</tspan></text>
<text x="3.9" y="559.2" font-size="11.6" fill="#b0b0b0" textLength="166.5" lengthAdjust="spacingAndGlyphs"><tspan fill="#9e484e" stroke="#9e484e" stroke-width="0.18">Georgia</tspan><tspan fill="#b0b0b0"> 11, </tspan><tspan fill="#9e484e" stroke="#9e484e" stroke-width="0.18">N. Carolina</tspan><tspan fill="#b0b0b0"> 11, </tspan><tspan fill="#5a8cae" stroke="#5a8cae" stroke-width="0.18">Greece</tspan><tspan fill="#b0b0b0"> 11, </tspan><tspan fill="#5a8cae" stroke="#5a8cae" stroke-width="0.18">Czechia</tspan><tspan fill="#b0b0b0"> 10,</tspan></text>
<text x="3.9" y="571.5" font-size="11.6" fill="#b0b0b0" textLength="166.8" lengthAdjust="spacingAndGlyphs"><tspan fill="#5a8cae" stroke="#5a8cae" stroke-width="0.18">Sweden</tspan><tspan fill="#b0b0b0"> 10, </tspan><tspan fill="#5a8cae" stroke="#5a8cae" stroke-width="0.18">Portugal</tspan><tspan fill="#b0b0b0"> 10, </tspan><tspan fill="#9e484e" stroke="#9e484e" stroke-width="0.18">Michigan</tspan><tspan fill="#b0b0b0"> 10, </tspan><tspan fill="#5a8cae" stroke="#5a8cae" stroke-width="0.18">Hungary</tspan><tspan fill="#b0b0b0"> 10</tspan></text>
<text x="3.9" y="596.8" font-size="11.6" fill="#a3a3a3" textLength="156.4" lengthAdjust="spacingAndGlyphs">Member states with less than 1 million people:</text>
<text x="3.9" y="609.7" font-size="11.6" fill="#b0b0b0" textLength="139" lengthAdjust="spacingAndGlyphs"><tspan fill="#5a8cae" stroke="#5a8cae" stroke-width="0.18">Malta</tspan><tspan fill="#b0b0b0"> 0.5, </tspan><tspan fill="#9e484e" stroke="#9e484e" stroke-width="0.18">Wyoming</tspan><tspan fill="#b0b0b0"> 0.6, </tspan><tspan fill="#5a8cae" stroke="#5a8cae" stroke-width="0.18">Luxembourg</tspan><tspan fill="#b0b0b0"> 0.6,</tspan></text>
<text x="3.9" y="621.6" font-size="11.6" fill="#b0b0b0" textLength="128.3" lengthAdjust="spacingAndGlyphs"><tspan fill="#9e484e" stroke="#9e484e" stroke-width="0.18">Vermont</tspan><tspan fill="#b0b0b0"> 0.6, </tspan><tspan fill="#9e484e" stroke="#9e484e" stroke-width="0.18">Alaska</tspan><tspan fill="#b0b0b0"> 0.7, </tspan><tspan fill="#9e484e" stroke="#9e484e" stroke-width="0.18">N. Dakota</tspan><tspan fill="#b0b0b0"> 0.8,</tspan></text>
<text x="3.9" y="634.2" font-size="11.6" fill="#b0b0b0" textLength="81.9" lengthAdjust="spacingAndGlyphs"><tspan fill="#5a8cae" stroke="#5a8cae" stroke-width="0.18">Cyprus</tspan><tspan fill="#b0b0b0"> 0.9, </tspan><tspan fill="#9e484e" stroke="#9e484e" stroke-width="0.18">S. Dakota</tspan><tspan fill="#b0b0b0"> 0.9</tspan></text>
<text x="414.3" y="220.3" font-size="11.3" fill="#a8efbc" textLength="23.8" lengthAdjust="spacingAndGlyphs" stroke="#a8efbc" stroke-width="0.2">Czechia</text>
<text x="440.3" y="220.3" font-size="11.3" fill="#b8b0b4" textLength="20.8" lengthAdjust="spacingAndGlyphs" stroke="#b8b0b4" stroke-width="0.2">17.3%</text>
<text x="328.8" y="145" font-size="8.6" fill="#dcdcdc" textLength="57.5" lengthAdjust="spacingAndGlyphs">Ex-EU or partially EU:</text>
<rect x="329.8" y="148.5" width="6.8" height="6.9" fill="#ffc000"/>
<text x="353.5" y="155" font-size="8.6" fill="#dedede" textLength="6.5" lengthAdjust="spacingAndGlyphs">UK</text>
<rect x="329.8" y="158.5" width="6.8" height="6.9" fill="#0a6c36"/>
<text x="353.5" y="164.4" font-size="8.6" fill="#dedede" textLength="21" lengthAdjust="spacingAndGlyphs">Norway</text>
<rect x="329.8" y="167.9" width="6.8" height="6.9" fill="#0a6c36"/>
<text x="349" y="173.8" font-size="8.6" fill="#dedede" textLength="29.8" lengthAdjust="spacingAndGlyphs">Switzerland</text>
<rect x="329.8" y="177.3" width="6.8" height="6.9" fill="#0a6c36"/>
<text x="353.5" y="183.1" font-size="8.6" fill="#dedede" textLength="19" lengthAdjust="spacingAndGlyphs">Iceland</text>
<rect x="338.5" y="148.5" width="13.4" height="6.9" fill="#a79bb0"/>
<path d="M338.5,148.5L351.9,155.4M351.9,148.5L338.5,155.4" stroke="#e6dfe8" stroke-width="1.1"/>
<path d="M345.2,148.5V155.4M338.5,151.95H351.9" stroke="#e9d3d8" stroke-width="1.7"/>
<rect x="338.5" y="158.5" width="13.4" height="6.6" fill="#b3a3aa"/>
<path d="M343,158.5V165.1M338.5,161.8H351.9" stroke="#c9c4d0" stroke-width="1.4"/>
<rect x="338.5" y="167.9" width="8.4" height="6.9" fill="#b09a9c"/>
<path d="M342.7,169.3V173.4M340.6,171.35H344.8" stroke="#f4f0f0" stroke-width="1.5"/>
<rect x="338.5" y="177.3" width="13.4" height="6.7" fill="#9a98a8"/>
<path d="M343,177.3V184M338.5,180.65H351.9" stroke="#c8c4cc" stroke-width="1.4"/>
<text x="231" y="558.5" font-size="8.6" fill="#dcdcdc" textLength="52" lengthAdjust="spacingAndGlyphs">US non-states(yet):</text>
<rect x="231.9" y="561.3" width="7.1" height="6.9" fill="#0db050"/>
<text x="256" y="568" font-size="8.6" fill="#dedede" textLength="9.6" lengthAdjust="spacingAndGlyphs">D.C.</text>
<rect x="231.9" y="570.9" width="7.1" height="6.9" fill="#0b6a35"/>
<text x="256" y="577.2" font-size="8.6" fill="#dedede" textLength="29.6" lengthAdjust="spacingAndGlyphs">Puerto Rico</text>
<rect x="231.9" y="580.6" width="7.1" height="6.9" fill="#0db050"/>
<text x="256" y="587" font-size="8.6" fill="#dedede" textLength="16" lengthAdjust="spacingAndGlyphs">Guam</text>
<rect x="240.3" y="561.3" width="13.7" height="6.9" fill="#f3eeee"/>
<path d="M240.3,564.6H254M240.3,566.8H254" stroke="#c9a0a6" stroke-width="1.1"/>
<path d="M242,562.3H252" stroke="#c9a0a6" stroke-width="1" stroke-dasharray="1.2 1.6"/>
<rect x="240.3" y="570.9" width="13.7" height="6.8" fill="#efe6e8"/>
<path d="M240.3,571.6H254M240.3,574.3H254M240.3,577H254" stroke="#c39aa2" stroke-width="1.2"/>
<path d="M240.3,570.9L245.5,574.3L240.3,577.7Z" fill="#70708a"/>
<rect x="240.3" y="580.6" width="13.7" height="6.9" fill="#9c9aac"/>
<ellipse cx="247.1" cy="584" rx="0.9" ry="1.5" fill="#d8d8e4"/>
<text x="401.4" y="596.4" font-size="12.4" fill="#a3a3a3" textLength="96.3" lengthAdjust="spacingAndGlyphs">facebook.com/maps.us.eu</text>
<text x="400.1" y="608" font-size="12.4" fill="#a3a3a3" textLength="99.1" lengthAdjust="spacingAndGlyphs">reddit.com/u/maps_us_eu</text>
<text x="400.1" y="619.8" font-size="12.4" fill="#a3a3a3" textLength="99.1" lengthAdjust="spacingAndGlyphs">instagram.com/maps.us.eu</text>
<text x="403.6" y="631.4" font-size="12.4" fill="#a3a3a3" textLength="91.3" lengthAdjust="spacingAndGlyphs">twitter.com/maps_us_eu</text>
</svg>
</body>
</html>
